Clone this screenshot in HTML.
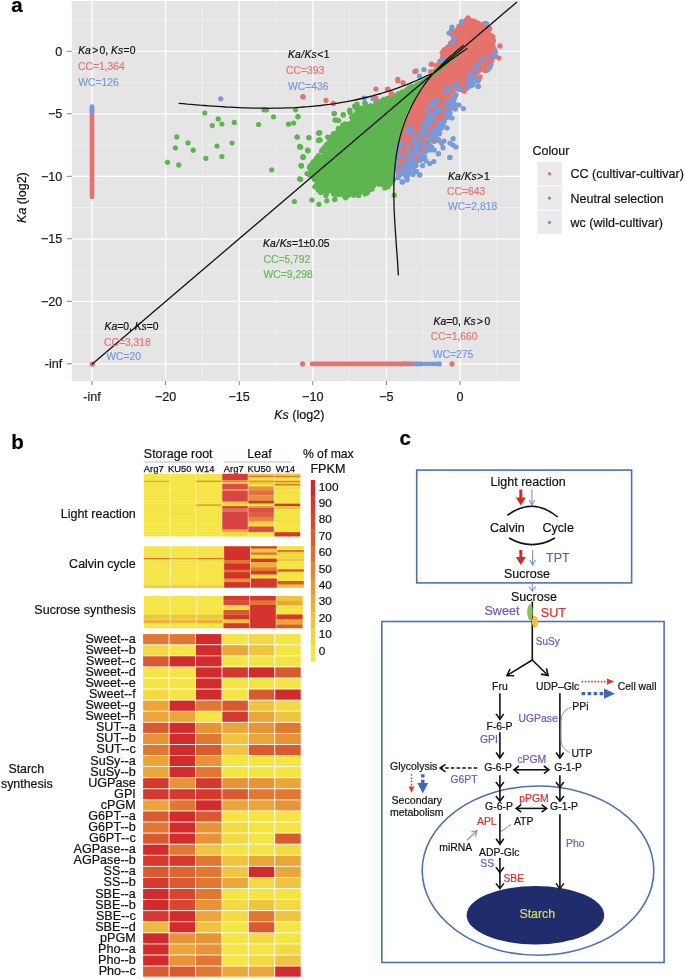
<!DOCTYPE html>
<html><head><meta charset="utf-8"><style>
html,body{margin:0;padding:0;background:#fff;}
body{width:685px;height:980px;overflow:hidden;font-family:"Liberation Sans",sans-serif;}
svg{display:block;will-change:transform;filter:blur(0.3px);}
</style></head><body>
<svg width="685" height="980" viewBox="0 0 685 980">
<rect width="685" height="980" fill="#fff"/>
<rect x="71.8" y="1" width="448.2" height="380" fill="#E5E5E5"/>
<line x1="71.8" y1="332.6" x2="520" y2="332.6" stroke="#F2F2F2" stroke-width="0.7"/>
<line x1="202.4" y1="1" x2="202.4" y2="381" stroke="#F2F2F2" stroke-width="0.7"/>
<line x1="71.8" y1="270.1" x2="520" y2="270.1" stroke="#F2F2F2" stroke-width="0.7"/>
<line x1="276.0" y1="1" x2="276.0" y2="381" stroke="#F2F2F2" stroke-width="0.7"/>
<line x1="71.8" y1="207.6" x2="520" y2="207.6" stroke="#F2F2F2" stroke-width="0.7"/>
<line x1="349.6" y1="1" x2="349.6" y2="381" stroke="#F2F2F2" stroke-width="0.7"/>
<line x1="71.8" y1="145.1" x2="520" y2="145.1" stroke="#F2F2F2" stroke-width="0.7"/>
<line x1="423.2" y1="1" x2="423.2" y2="381" stroke="#F2F2F2" stroke-width="0.7"/>
<line x1="71.8" y1="82.6" x2="520" y2="82.6" stroke="#F2F2F2" stroke-width="0.7"/>
<line x1="496.8" y1="1" x2="496.8" y2="381" stroke="#F2F2F2" stroke-width="0.7"/>
<line x1="71.8" y1="20.1" x2="520" y2="20.1" stroke="#F2F2F2" stroke-width="0.7"/>
<line x1="92.0" y1="1" x2="92.0" y2="381" stroke="#FFFFFF" stroke-width="1.3"/>
<line x1="71.8" y1="363.8" x2="520" y2="363.8" stroke="#FFFFFF" stroke-width="1.3"/>
<line x1="165.6" y1="1" x2="165.6" y2="381" stroke="#FFFFFF" stroke-width="1.3"/>
<line x1="71.8" y1="301.3" x2="520" y2="301.3" stroke="#FFFFFF" stroke-width="1.3"/>
<line x1="239.2" y1="1" x2="239.2" y2="381" stroke="#FFFFFF" stroke-width="1.3"/>
<line x1="71.8" y1="238.8" x2="520" y2="238.8" stroke="#FFFFFF" stroke-width="1.3"/>
<line x1="312.8" y1="1" x2="312.8" y2="381" stroke="#FFFFFF" stroke-width="1.3"/>
<line x1="71.8" y1="176.3" x2="520" y2="176.3" stroke="#FFFFFF" stroke-width="1.3"/>
<line x1="386.4" y1="1" x2="386.4" y2="381" stroke="#FFFFFF" stroke-width="1.3"/>
<line x1="71.8" y1="113.8" x2="520" y2="113.8" stroke="#FFFFFF" stroke-width="1.3"/>
<line x1="460.0" y1="1" x2="460.0" y2="381" stroke="#FFFFFF" stroke-width="1.3"/>
<line x1="71.8" y1="51.3" x2="520" y2="51.3" stroke="#FFFFFF" stroke-width="1.3"/>
<line x1="92.0" y1="381" x2="92.0" y2="385" stroke="#7F7F7F" stroke-width="1"/>
<line x1="66.8" y1="363.8" x2="71.8" y2="363.8" stroke="#7F7F7F" stroke-width="1"/>
<line x1="165.6" y1="381" x2="165.6" y2="385" stroke="#7F7F7F" stroke-width="1"/>
<line x1="66.8" y1="301.3" x2="71.8" y2="301.3" stroke="#7F7F7F" stroke-width="1"/>
<line x1="239.2" y1="381" x2="239.2" y2="385" stroke="#7F7F7F" stroke-width="1"/>
<line x1="66.8" y1="238.8" x2="71.8" y2="238.8" stroke="#7F7F7F" stroke-width="1"/>
<line x1="312.8" y1="381" x2="312.8" y2="385" stroke="#7F7F7F" stroke-width="1"/>
<line x1="66.8" y1="176.3" x2="71.8" y2="176.3" stroke="#7F7F7F" stroke-width="1"/>
<line x1="386.4" y1="381" x2="386.4" y2="385" stroke="#7F7F7F" stroke-width="1"/>
<line x1="66.8" y1="113.8" x2="71.8" y2="113.8" stroke="#7F7F7F" stroke-width="1"/>
<line x1="460.0" y1="381" x2="460.0" y2="385" stroke="#7F7F7F" stroke-width="1"/>
<line x1="66.8" y1="51.3" x2="71.8" y2="51.3" stroke="#7F7F7F" stroke-width="1"/>
<defs><clipPath id="gclip"><polygon points="150.0,60.0 178.7,104.8 183.0,105.2 187.3,105.6 191.6,105.9 195.9,106.3 200.2,106.7 204.5,107.0 208.8,107.3 213.1,107.6 217.4,107.9 221.7,108.2 226.0,108.5 230.3,108.7 234.6,108.9 238.9,109.1 243.3,109.3 247.6,109.4 251.9,109.6 256.2,109.7 260.5,109.7 264.8,109.7 269.1,109.8 273.4,109.7 277.7,109.7 282.0,109.6 286.3,109.4 290.6,109.3 294.9,109.1 299.2,108.8 303.5,108.5 307.8,108.2 312.1,107.8 316.4,107.4 320.7,107.0 325.0,106.4 329.3,105.9 333.6,105.3 337.9,104.6 342.2,103.9 346.5,103.2 350.8,102.3 355.1,101.5 359.4,100.5 363.7,99.5 368.0,98.5 372.4,97.4 376.7,96.2 381.0,95.0 385.3,93.6 389.6,92.3 393.9,90.8 398.2,89.3 402.5,87.7 406.8,86.1 411.1,84.3 415.4,82.5 419.7,80.6 424.0,78.7 428.3,76.6 432.6,75.4 447.0,56.0 520.0,0.0 520.0,400.0 150.0,400.0"/></clipPath></defs>
<line x1="92" y1="108" x2="92" y2="197" stroke="#E5736B" stroke-width="4.6" stroke-linecap="round"/>
<line x1="92" y1="106.5" x2="92" y2="112.5" stroke="#7A99D9" stroke-width="4.6" stroke-linecap="round"/>
<line x1="312" y1="363.9" x2="405" y2="363.9" stroke="#E5736B" stroke-width="4.6" stroke-linecap="round"/>
<line x1="405" y1="363.9" x2="422" y2="363.9" stroke="#7A99D9" stroke-width="4.6" stroke-linecap="round"/>
<circle cx="425.5" cy="363.9" r="2.4" fill="#7A99D9"/>
<circle cx="429.0" cy="363.9" r="2.4" fill="#7A99D9"/>
<circle cx="432.5" cy="363.9" r="2.4" fill="#7A99D9"/>
<circle cx="435.5" cy="363.9" r="2.4" fill="#7A99D9"/>
<circle cx="406.5" cy="363.9" r="2.4" fill="#E5736B"/>
<circle cx="410.5" cy="363.9" r="2.4" fill="#E5736B"/>
<circle cx="302.6" cy="363.9" r="2.6" fill="#E5736B"/>
<circle cx="439.3" cy="363.9" r="2.6" fill="#7A99D9"/>
<circle cx="452.0" cy="363.9" r="2.6" fill="#E5736B"/>
<circle cx="92.4" cy="364.2" r="2.6" fill="#E5736B"/>
<circle cx="204.8" cy="113.0" r="2.6" fill="#5EB450"/>
<circle cx="218.2" cy="118.9" r="2.6" fill="#5EB450"/>
<circle cx="212.3" cy="125.6" r="2.6" fill="#5EB450"/>
<circle cx="221.9" cy="124.0" r="2.6" fill="#5EB450"/>
<circle cx="234.3" cy="122.4" r="2.6" fill="#5EB450"/>
<circle cx="264.0" cy="109.8" r="2.6" fill="#5EB450"/>
<circle cx="266.5" cy="109.8" r="2.6" fill="#5EB450"/>
<circle cx="273.5" cy="116.8" r="2.6" fill="#5EB450"/>
<circle cx="258.6" cy="124.5" r="2.6" fill="#5EB450"/>
<circle cx="295.5" cy="109.8" r="2.6" fill="#5EB450"/>
<circle cx="298.0" cy="116.8" r="2.6" fill="#5EB450"/>
<circle cx="288.5" cy="124.2" r="2.6" fill="#5EB450"/>
<circle cx="293.6" cy="123.0" r="2.6" fill="#5EB450"/>
<circle cx="176.8" cy="136.9" r="2.6" fill="#5EB450"/>
<circle cx="188.0" cy="142.9" r="2.6" fill="#5EB450"/>
<circle cx="175.4" cy="147.8" r="2.6" fill="#5EB450"/>
<circle cx="193.2" cy="150.2" r="2.6" fill="#5EB450"/>
<circle cx="217.0" cy="146.0" r="2.6" fill="#5EB450"/>
<circle cx="232.0" cy="143.0" r="2.6" fill="#5EB450"/>
<circle cx="167.5" cy="162.3" r="2.6" fill="#5EB450"/>
<circle cx="178.7" cy="164.9" r="2.6" fill="#5EB450"/>
<circle cx="205.8" cy="158.3" r="2.6" fill="#5EB450"/>
<circle cx="221.9" cy="156.5" r="2.6" fill="#5EB450"/>
<circle cx="271.7" cy="169.8" r="2.6" fill="#5EB450"/>
<circle cx="297.0" cy="137.0" r="2.6" fill="#5EB450"/>
<circle cx="308.8" cy="137.8" r="2.6" fill="#5EB450"/>
<circle cx="299.7" cy="146.9" r="2.6" fill="#5EB450"/>
<circle cx="307.6" cy="150.2" r="2.6" fill="#5EB450"/>
<circle cx="303.0" cy="156.7" r="2.6" fill="#5EB450"/>
<circle cx="301.0" cy="165.6" r="2.6" fill="#5EB450"/>
<circle cx="309.5" cy="167.5" r="2.6" fill="#5EB450"/>
<circle cx="318.4" cy="133.0" r="2.6" fill="#5EB450"/>
<circle cx="318.4" cy="140.6" r="2.6" fill="#5EB450"/>
<circle cx="300.1" cy="179.3" r="2.6" fill="#5EB450"/>
<circle cx="294.4" cy="201.5" r="2.6" fill="#5EB450"/>
<circle cx="299.6" cy="178.9" r="2.6" fill="#5EB450"/>
<circle cx="309.3" cy="174.5" r="2.6" fill="#5EB450"/>
<circle cx="311.9" cy="200.0" r="2.6" fill="#5EB450"/>
<circle cx="326.8" cy="200.8" r="2.6" fill="#5EB450"/>
<circle cx="334.7" cy="199.6" r="2.6" fill="#5EB450"/>
<circle cx="318.9" cy="204.3" r="2.6" fill="#5EB450"/>
<circle cx="367.0" cy="193.0" r="2.6" fill="#5EB450"/>
<circle cx="388.0" cy="186.8" r="2.6" fill="#5EB450"/>
<circle cx="394.2" cy="195.2" r="2.6" fill="#5EB450"/>
<circle cx="334.3" cy="113.6" r="2.6" fill="#5EB450"/>
<circle cx="343.0" cy="114.7" r="2.6" fill="#5EB450"/>
<circle cx="335.0" cy="120.1" r="2.6" fill="#5EB450"/>
<circle cx="338.7" cy="120.6" r="2.6" fill="#5EB450"/>
<circle cx="319.7" cy="132.6" r="2.6" fill="#5EB450"/>
<circle cx="319.0" cy="139.9" r="2.6" fill="#5EB450"/>
<circle cx="300.7" cy="147.2" r="2.6" fill="#5EB450"/>
<circle cx="308.0" cy="150.8" r="2.6" fill="#5EB450"/>
<circle cx="302.9" cy="157.4" r="2.6" fill="#5EB450"/>
<circle cx="301.5" cy="166.1" r="2.6" fill="#5EB450"/>
<circle cx="309.5" cy="174.9" r="2.6" fill="#5EB450"/>
<circle cx="300.7" cy="179.3" r="2.6" fill="#5EB450"/>
<circle cx="349.6" cy="110.7" r="2.6" fill="#5EB450"/>
<circle cx="355.5" cy="107.7" r="2.6" fill="#5EB450"/>
<circle cx="365.0" cy="103.4" r="2.6" fill="#5EB450"/>
<circle cx="357.0" cy="104.1" r="2.6" fill="#5EB450"/>
<circle cx="367.2" cy="192.4" r="2.6" fill="#5EB450"/>
<circle cx="381.8" cy="184.4" r="2.6" fill="#5EB450"/>
<circle cx="387.6" cy="186.6" r="2.6" fill="#5EB450"/>
<circle cx="334.1" cy="113.7" r="2.6" fill="#5EB450"/>
<circle cx="343.5" cy="114.9" r="2.6" fill="#5EB450"/>
<circle cx="349.9" cy="110.2" r="2.6" fill="#5EB450"/>
<circle cx="337.0" cy="120.1" r="2.6" fill="#5EB450"/>
<circle cx="319.5" cy="133.0" r="2.6" fill="#5EB450"/>
<circle cx="309.0" cy="137.6" r="2.6" fill="#5EB450"/>
<circle cx="320.1" cy="140.0" r="2.6" fill="#5EB450"/>
<circle cx="327.7" cy="137.0" r="2.6" fill="#5EB450"/>
<circle cx="297.3" cy="137.0" r="2.6" fill="#5EB450"/>
<circle cx="299.7" cy="146.4" r="2.6" fill="#5EB450"/>
<circle cx="307.8" cy="150.5" r="2.6" fill="#5EB450"/>
<circle cx="303.2" cy="156.9" r="2.6" fill="#5EB450"/>
<circle cx="301.4" cy="165.7" r="2.6" fill="#5EB450"/>
<circle cx="309.6" cy="167.4" r="2.6" fill="#5EB450"/>
<circle cx="297.9" cy="116.6" r="2.6" fill="#5EB450"/>
<circle cx="365.0" cy="103.2" r="2.6" fill="#5EB450"/>
<circle cx="354.6" cy="106.0" r="2.6" fill="#5EB450"/>
<circle cx="358.0" cy="108.4" r="2.6" fill="#5EB450"/>
<g clip-path="url(#gclip)">
<polygon points="447.0,56.0 440.0,64.0 432.0,74.0 425.0,83.0 419.0,92.0 412.0,104.0 407.0,113.0 403.0,124.0 400.0,136.0 398.0,147.0 396.0,158.0 394.5,170.0 394.0,179.0 390.0,182.0 380.0,184.0 366.0,190.0 352.0,192.0 344.0,194.0 330.0,190.5 320.0,192.0 317.0,187.0 315.0,177.0 312.0,170.0 312.5,166.0 318.3,163.5 322.4,158.6 326.9,152.6 331.6,146.9 336.2,139.8 340.3,133.8 346.6,128.0 352.5,121.0 359.2,115.2 367.3,111.7 377.9,108.1 388.0,98.0 400.0,93.0 410.0,88.0 420.0,82.5 430.0,76.0" fill="#5EB450"/>
<circle cx="360.6" cy="189.4" r="2.6" fill="#5EB450"/><circle cx="387.2" cy="183.0" r="2.6" fill="#5EB450"/><circle cx="389.0" cy="183.9" r="2.6" fill="#5EB450"/><circle cx="387.0" cy="181.0" r="2.6" fill="#5EB450"/><circle cx="314.4" cy="179.4" r="2.6" fill="#5EB450"/><circle cx="311.8" cy="166.5" r="2.6" fill="#5EB450"/><circle cx="315.0" cy="164.0" r="2.6" fill="#5EB450"/><circle cx="364.5" cy="189.8" r="2.6" fill="#5EB450"/><circle cx="316.8" cy="180.1" r="2.6" fill="#5EB450"/><circle cx="326.8" cy="190.7" r="2.6" fill="#5EB450"/><circle cx="388.3" cy="183.5" r="2.6" fill="#5EB450"/><circle cx="349.4" cy="192.1" r="2.6" fill="#5EB450"/><circle cx="346.6" cy="192.7" r="2.6" fill="#5EB450"/><circle cx="320.2" cy="191.1" r="2.6" fill="#5EB450"/><circle cx="338.6" cy="194.6" r="2.6" fill="#5EB450"/><circle cx="365.2" cy="193.9" r="2.6" fill="#5EB450"/><circle cx="318.2" cy="186.5" r="2.6" fill="#5EB450"/><circle cx="391.1" cy="182.4" r="2.6" fill="#5EB450"/><circle cx="333.5" cy="193.4" r="2.6" fill="#5EB450"/><circle cx="320.8" cy="192.6" r="2.6" fill="#5EB450"/><circle cx="346.9" cy="195.1" r="2.6" fill="#5EB450"/><circle cx="345.5" cy="197.8" r="2.6" fill="#5EB450"/><circle cx="326.3" cy="193.6" r="2.6" fill="#5EB450"/><circle cx="365.0" cy="189.9" r="2.6" fill="#5EB450"/><circle cx="392.2" cy="180.8" r="2.6" fill="#5EB450"/><circle cx="389.0" cy="184.4" r="2.6" fill="#5EB450"/><circle cx="353.9" cy="195.2" r="2.6" fill="#5EB450"/><circle cx="336.0" cy="194.0" r="2.6" fill="#5EB450"/><circle cx="314.9" cy="175.0" r="2.6" fill="#5EB450"/><circle cx="357.2" cy="193.2" r="2.6" fill="#5EB450"/><circle cx="378.5" cy="184.1" r="2.6" fill="#5EB450"/><circle cx="343.2" cy="194.5" r="2.6" fill="#5EB450"/><circle cx="393.6" cy="179.2" r="2.6" fill="#5EB450"/><circle cx="334.1" cy="193.9" r="2.6" fill="#5EB450"/><circle cx="339.9" cy="193.8" r="2.6" fill="#5EB450"/><circle cx="389.5" cy="184.2" r="2.6" fill="#5EB450"/><circle cx="312.3" cy="174.8" r="2.6" fill="#5EB450"/><circle cx="352.4" cy="190.4" r="2.6" fill="#5EB450"/><circle cx="387.9" cy="181.1" r="2.6" fill="#5EB450"/><circle cx="358.8" cy="189.7" r="2.6" fill="#5EB450"/><circle cx="384.9" cy="187.9" r="2.6" fill="#5EB450"/><circle cx="329.4" cy="189.3" r="2.6" fill="#5EB450"/><circle cx="358.8" cy="195.4" r="2.6" fill="#5EB450"/><circle cx="313.7" cy="161.7" r="2.6" fill="#5EB450"/><circle cx="385.3" cy="181.4" r="2.6" fill="#5EB450"/><circle cx="367.8" cy="191.2" r="2.6" fill="#5EB450"/><circle cx="310.2" cy="165.9" r="2.6" fill="#5EB450"/><circle cx="391.8" cy="181.1" r="2.6" fill="#5EB450"/><circle cx="313.3" cy="175.8" r="2.6" fill="#5EB450"/><circle cx="355.9" cy="190.2" r="2.6" fill="#5EB450"/><circle cx="337.9" cy="194.0" r="2.6" fill="#5EB450"/><circle cx="372.0" cy="189.2" r="2.6" fill="#5EB450"/><circle cx="313.3" cy="177.1" r="2.6" fill="#5EB450"/><circle cx="318.7" cy="187.9" r="2.6" fill="#5EB450"/><circle cx="357.2" cy="190.2" r="2.6" fill="#5EB450"/><circle cx="368.1" cy="190.3" r="2.6" fill="#5EB450"/><circle cx="347.9" cy="195.3" r="2.6" fill="#5EB450"/><circle cx="312.3" cy="165.7" r="2.6" fill="#5EB450"/><circle cx="373.6" cy="185.6" r="2.6" fill="#5EB450"/><circle cx="311.0" cy="172.3" r="2.6" fill="#5EB450"/><circle cx="325.9" cy="195.5" r="2.6" fill="#5EB450"/><circle cx="310.9" cy="171.2" r="2.6" fill="#5EB450"/><circle cx="343.8" cy="192.8" r="2.6" fill="#5EB450"/><circle cx="360.1" cy="192.5" r="2.6" fill="#5EB450"/><circle cx="352.9" cy="191.7" r="2.6" fill="#5EB450"/><circle cx="319.4" cy="189.4" r="2.6" fill="#5EB450"/><circle cx="307.0" cy="173.5" r="2.6" fill="#5EB450"/><circle cx="312.5" cy="162.8" r="2.6" fill="#5EB450"/><circle cx="334.8" cy="199.3" r="2.6" fill="#5EB450"/><circle cx="325.7" cy="191.5" r="2.6" fill="#5EB450"/><circle cx="349.3" cy="194.7" r="2.6" fill="#5EB450"/><circle cx="372.2" cy="186.4" r="2.6" fill="#5EB450"/><circle cx="369.8" cy="189.0" r="2.6" fill="#5EB450"/><circle cx="350.1" cy="191.0" r="2.6" fill="#5EB450"/><circle cx="357.5" cy="191.3" r="2.6" fill="#5EB450"/><circle cx="312.6" cy="171.2" r="2.6" fill="#5EB450"/><circle cx="341.5" cy="193.8" r="2.6" fill="#5EB450"/><circle cx="392.3" cy="180.2" r="2.6" fill="#5EB450"/><circle cx="317.2" cy="181.9" r="2.6" fill="#5EB450"/><circle cx="318.2" cy="190.0" r="2.6" fill="#5EB450"/><circle cx="339.7" cy="193.4" r="2.6" fill="#5EB450"/><circle cx="383.7" cy="184.6" r="2.6" fill="#5EB450"/><circle cx="316.3" cy="185.1" r="2.6" fill="#5EB450"/><circle cx="314.8" cy="186.8" r="2.6" fill="#5EB450"/><circle cx="329.8" cy="190.8" r="2.6" fill="#5EB450"/><circle cx="321.0" cy="191.9" r="2.6" fill="#5EB450"/><circle cx="344.7" cy="196.1" r="2.6" fill="#5EB450"/><circle cx="311.7" cy="174.9" r="2.6" fill="#5EB450"/><circle cx="334.8" cy="194.0" r="2.6" fill="#5EB450"/><circle cx="379.8" cy="182.6" r="2.6" fill="#5EB450"/>
<circle cx="316.1" cy="163.0" r="2.6" fill="#5EB450"/><circle cx="366.2" cy="107.0" r="2.6" fill="#5EB450"/><circle cx="360.1" cy="111.5" r="2.6" fill="#5EB450"/><circle cx="376.2" cy="103.1" r="2.6" fill="#5EB450"/><circle cx="384.8" cy="103.5" r="2.6" fill="#5EB450"/><circle cx="387.3" cy="99.1" r="2.6" fill="#5EB450"/><circle cx="338.9" cy="132.2" r="2.6" fill="#5EB450"/><circle cx="324.9" cy="154.0" r="2.6" fill="#5EB450"/><circle cx="314.9" cy="168.2" r="2.6" fill="#5EB450"/><circle cx="316.4" cy="168.6" r="2.6" fill="#5EB450"/><circle cx="347.1" cy="129.0" r="2.6" fill="#5EB450"/><circle cx="366.5" cy="106.4" r="2.6" fill="#5EB450"/><circle cx="331.1" cy="149.4" r="2.6" fill="#5EB450"/><circle cx="330.9" cy="148.6" r="2.6" fill="#5EB450"/><circle cx="379.5" cy="102.7" r="2.6" fill="#5EB450"/><circle cx="318.5" cy="155.6" r="2.6" fill="#5EB450"/><circle cx="359.2" cy="113.7" r="2.6" fill="#5EB450"/><circle cx="341.0" cy="134.5" r="2.6" fill="#5EB450"/><circle cx="350.1" cy="112.6" r="2.6" fill="#5EB450"/><circle cx="313.9" cy="163.0" r="2.6" fill="#5EB450"/><circle cx="333.0" cy="140.3" r="2.6" fill="#5EB450"/><circle cx="330.8" cy="148.8" r="2.6" fill="#5EB450"/><circle cx="328.8" cy="151.4" r="2.6" fill="#5EB450"/><circle cx="317.8" cy="166.0" r="2.6" fill="#5EB450"/><circle cx="329.8" cy="142.6" r="2.6" fill="#5EB450"/><circle cx="345.6" cy="129.3" r="2.6" fill="#5EB450"/><circle cx="314.3" cy="168.3" r="2.6" fill="#5EB450"/><circle cx="349.7" cy="124.7" r="2.6" fill="#5EB450"/><circle cx="383.9" cy="106.2" r="2.6" fill="#5EB450"/><circle cx="338.6" cy="132.7" r="2.6" fill="#5EB450"/><circle cx="336.5" cy="135.7" r="2.6" fill="#5EB450"/><circle cx="388.0" cy="102.5" r="2.6" fill="#5EB450"/><circle cx="359.2" cy="112.0" r="2.6" fill="#5EB450"/><circle cx="336.4" cy="141.4" r="2.6" fill="#5EB450"/><circle cx="314.8" cy="162.8" r="2.6" fill="#5EB450"/><circle cx="324.1" cy="157.9" r="2.6" fill="#5EB450"/><circle cx="375.7" cy="105.5" r="2.6" fill="#5EB450"/><circle cx="328.1" cy="150.3" r="2.6" fill="#5EB450"/><circle cx="321.7" cy="156.8" r="2.6" fill="#5EB450"/><circle cx="384.1" cy="99.5" r="2.6" fill="#5EB450"/><circle cx="324.6" cy="147.1" r="2.6" fill="#5EB450"/><circle cx="337.3" cy="140.8" r="2.6" fill="#5EB450"/><circle cx="342.0" cy="129.5" r="2.6" fill="#5EB450"/><circle cx="346.7" cy="129.8" r="2.6" fill="#5EB450"/><circle cx="317.2" cy="162.9" r="2.6" fill="#5EB450"/><circle cx="332.8" cy="144.7" r="2.6" fill="#5EB450"/><circle cx="345.1" cy="123.9" r="2.6" fill="#5EB450"/><circle cx="359.5" cy="110.1" r="2.6" fill="#5EB450"/><circle cx="329.7" cy="139.8" r="2.6" fill="#5EB450"/><circle cx="359.5" cy="107.9" r="2.6" fill="#5EB450"/><circle cx="378.1" cy="104.8" r="2.6" fill="#5EB450"/><circle cx="370.8" cy="111.1" r="2.6" fill="#5EB450"/><circle cx="342.8" cy="125.6" r="2.6" fill="#5EB450"/><circle cx="371.3" cy="107.6" r="2.6" fill="#5EB450"/><circle cx="357.2" cy="112.6" r="2.6" fill="#5EB450"/><circle cx="317.9" cy="167.3" r="2.6" fill="#5EB450"/><circle cx="315.9" cy="159.7" r="2.6" fill="#5EB450"/><circle cx="352.9" cy="116.9" r="2.6" fill="#5EB450"/><circle cx="345.5" cy="131.0" r="2.6" fill="#5EB450"/><circle cx="363.7" cy="111.0" r="2.6" fill="#5EB450"/><circle cx="358.1" cy="117.6" r="2.6" fill="#5EB450"/><circle cx="330.0" cy="150.4" r="2.6" fill="#5EB450"/><circle cx="362.7" cy="113.8" r="2.6" fill="#5EB450"/><circle cx="386.9" cy="101.9" r="2.6" fill="#5EB450"/><circle cx="341.5" cy="128.3" r="2.6" fill="#5EB450"/><circle cx="351.7" cy="117.3" r="2.6" fill="#5EB450"/><circle cx="326.5" cy="147.3" r="2.6" fill="#5EB450"/><circle cx="351.3" cy="123.7" r="2.6" fill="#5EB450"/><circle cx="356.3" cy="113.4" r="2.6" fill="#5EB450"/><circle cx="330.4" cy="144.9" r="2.6" fill="#5EB450"/><circle cx="343.1" cy="132.1" r="2.6" fill="#5EB450"/><circle cx="321.5" cy="151.0" r="2.6" fill="#5EB450"/><circle cx="315.5" cy="168.5" r="2.6" fill="#5EB450"/><circle cx="386.2" cy="102.5" r="2.6" fill="#5EB450"/><circle cx="322.4" cy="150.2" r="2.6" fill="#5EB450"/><circle cx="352.1" cy="122.4" r="2.6" fill="#5EB450"/><circle cx="385.6" cy="105.2" r="2.6" fill="#5EB450"/><circle cx="342.9" cy="125.0" r="2.6" fill="#5EB450"/><circle cx="324.1" cy="148.5" r="2.6" fill="#5EB450"/><circle cx="318.8" cy="168.1" r="2.6" fill="#5EB450"/><circle cx="341.0" cy="132.3" r="2.6" fill="#5EB450"/><circle cx="334.7" cy="140.7" r="2.6" fill="#5EB450"/><circle cx="313.3" cy="170.0" r="2.6" fill="#5EB450"/><circle cx="316.5" cy="158.0" r="2.6" fill="#5EB450"/><circle cx="380.1" cy="106.5" r="2.6" fill="#5EB450"/><circle cx="333.7" cy="133.7" r="2.6" fill="#5EB450"/><circle cx="335.0" cy="138.9" r="2.6" fill="#5EB450"/><circle cx="318.4" cy="166.5" r="2.6" fill="#5EB450"/><circle cx="327.6" cy="143.8" r="2.6" fill="#5EB450"/><circle cx="328.5" cy="147.3" r="2.6" fill="#5EB450"/><circle cx="332.7" cy="135.6" r="2.6" fill="#5EB450"/><circle cx="369.7" cy="107.8" r="2.6" fill="#5EB450"/><circle cx="383.2" cy="103.1" r="2.6" fill="#5EB450"/><circle cx="314.2" cy="165.1" r="2.6" fill="#5EB450"/><circle cx="363.8" cy="109.9" r="2.6" fill="#5EB450"/><circle cx="312.9" cy="164.7" r="2.6" fill="#5EB450"/><circle cx="342.5" cy="130.5" r="2.6" fill="#5EB450"/><circle cx="361.5" cy="108.4" r="2.6" fill="#5EB450"/><circle cx="356.7" cy="116.6" r="2.6" fill="#5EB450"/><circle cx="338.6" cy="136.9" r="2.6" fill="#5EB450"/><circle cx="322.4" cy="150.5" r="2.6" fill="#5EB450"/><circle cx="323.2" cy="149.5" r="2.6" fill="#5EB450"/><circle cx="341.7" cy="133.2" r="2.6" fill="#5EB450"/><circle cx="317.2" cy="162.7" r="2.6" fill="#5EB450"/><circle cx="327.7" cy="147.7" r="2.6" fill="#5EB450"/><circle cx="364.1" cy="111.6" r="2.6" fill="#5EB450"/><circle cx="346.7" cy="126.1" r="2.6" fill="#5EB450"/><circle cx="317.7" cy="164.7" r="2.6" fill="#5EB450"/><circle cx="319.2" cy="159.4" r="2.6" fill="#5EB450"/><circle cx="375.9" cy="108.8" r="2.6" fill="#5EB450"/><circle cx="328.0" cy="149.3" r="2.6" fill="#5EB450"/><circle cx="383.7" cy="100.6" r="2.6" fill="#5EB450"/><circle cx="318.5" cy="168.4" r="2.6" fill="#5EB450"/><circle cx="379.0" cy="105.6" r="2.6" fill="#5EB450"/><circle cx="315.7" cy="170.4" r="2.6" fill="#5EB450"/><circle cx="370.6" cy="105.8" r="2.6" fill="#5EB450"/><circle cx="329.5" cy="150.6" r="2.6" fill="#5EB450"/><circle cx="345.0" cy="124.8" r="2.6" fill="#5EB450"/><circle cx="360.7" cy="111.3" r="2.6" fill="#5EB450"/><circle cx="338.3" cy="128.3" r="2.6" fill="#5EB450"/><circle cx="324.0" cy="148.3" r="2.6" fill="#5EB450"/><circle cx="333.4" cy="145.1" r="2.6" fill="#5EB450"/><circle cx="353.3" cy="115.9" r="2.6" fill="#5EB450"/><circle cx="316.3" cy="163.3" r="2.6" fill="#5EB450"/><circle cx="337.8" cy="137.2" r="2.6" fill="#5EB450"/><circle cx="316.5" cy="169.4" r="2.6" fill="#5EB450"/><circle cx="384.7" cy="101.7" r="2.6" fill="#5EB450"/><circle cx="343.3" cy="130.8" r="2.6" fill="#5EB450"/><circle cx="384.7" cy="101.2" r="2.6" fill="#5EB450"/><circle cx="315.3" cy="168.0" r="2.6" fill="#5EB450"/><circle cx="339.6" cy="134.2" r="2.6" fill="#5EB450"/><circle cx="382.3" cy="105.1" r="2.6" fill="#5EB450"/><circle cx="337.2" cy="132.5" r="2.6" fill="#5EB450"/><circle cx="367.9" cy="107.6" r="2.6" fill="#5EB450"/><circle cx="321.9" cy="150.5" r="2.6" fill="#5EB450"/><circle cx="371.4" cy="110.2" r="2.6" fill="#5EB450"/><circle cx="365.6" cy="111.8" r="2.6" fill="#5EB450"/><circle cx="345.2" cy="129.6" r="2.6" fill="#5EB450"/><circle cx="337.1" cy="132.9" r="2.6" fill="#5EB450"/><circle cx="321.2" cy="158.1" r="2.6" fill="#5EB450"/><circle cx="387.7" cy="104.1" r="2.6" fill="#5EB450"/><circle cx="334.3" cy="134.1" r="2.6" fill="#5EB450"/><circle cx="360.8" cy="108.6" r="2.6" fill="#5EB450"/><circle cx="334.6" cy="142.6" r="2.6" fill="#5EB450"/><circle cx="364.9" cy="114.1" r="2.6" fill="#5EB450"/><circle cx="336.4" cy="137.5" r="2.6" fill="#5EB450"/><circle cx="325.0" cy="157.7" r="2.6" fill="#5EB450"/><circle cx="331.4" cy="137.6" r="2.6" fill="#5EB450"/><circle cx="386.6" cy="104.2" r="2.6" fill="#5EB450"/><circle cx="370.3" cy="106.2" r="2.6" fill="#5EB450"/><circle cx="315.9" cy="165.6" r="2.6" fill="#5EB450"/><circle cx="382.1" cy="106.3" r="2.6" fill="#5EB450"/><circle cx="380.4" cy="108.4" r="2.6" fill="#5EB450"/><circle cx="369.3" cy="106.8" r="2.6" fill="#5EB450"/><circle cx="313.4" cy="163.3" r="2.6" fill="#5EB450"/><circle cx="362.5" cy="108.6" r="2.6" fill="#5EB450"/><circle cx="326.6" cy="144.8" r="2.6" fill="#5EB450"/><circle cx="327.2" cy="146.7" r="2.6" fill="#5EB450"/><circle cx="332.0" cy="148.7" r="2.6" fill="#5EB450"/><circle cx="380.6" cy="103.7" r="2.6" fill="#5EB450"/><circle cx="317.2" cy="168.0" r="2.6" fill="#5EB450"/><circle cx="383.6" cy="99.8" r="2.6" fill="#5EB450"/><circle cx="328.0" cy="148.9" r="2.6" fill="#5EB450"/><circle cx="383.0" cy="106.0" r="2.6" fill="#5EB450"/><circle cx="361.9" cy="109.4" r="2.6" fill="#5EB450"/><circle cx="352.6" cy="119.9" r="2.6" fill="#5EB450"/><circle cx="332.6" cy="137.1" r="2.6" fill="#5EB450"/><circle cx="364.9" cy="112.4" r="2.6" fill="#5EB450"/><circle cx="349.0" cy="123.9" r="2.6" fill="#5EB450"/><circle cx="376.2" cy="102.9" r="2.6" fill="#5EB450"/>
<circle cx="381.6" cy="103.4" r="2.6" fill="#5EB450"/><circle cx="415.6" cy="86.3" r="2.6" fill="#5EB450"/><circle cx="399.4" cy="93.9" r="2.6" fill="#5EB450"/><circle cx="417.0" cy="84.1" r="2.6" fill="#5EB450"/><circle cx="382.7" cy="100.4" r="2.6" fill="#5EB450"/><circle cx="408.0" cy="90.6" r="2.6" fill="#5EB450"/><circle cx="387.7" cy="100.1" r="2.6" fill="#5EB450"/><circle cx="384.4" cy="99.5" r="2.6" fill="#5EB450"/><circle cx="394.6" cy="96.7" r="2.6" fill="#5EB450"/><circle cx="404.9" cy="92.6" r="2.6" fill="#5EB450"/><circle cx="411.8" cy="86.5" r="2.6" fill="#5EB450"/><circle cx="402.4" cy="91.9" r="2.6" fill="#5EB450"/><circle cx="426.9" cy="80.8" r="2.6" fill="#5EB450"/><circle cx="383.4" cy="102.2" r="2.6" fill="#5EB450"/><circle cx="408.1" cy="88.6" r="2.6" fill="#5EB450"/><circle cx="423.8" cy="81.4" r="2.6" fill="#5EB450"/><circle cx="418.5" cy="83.0" r="2.6" fill="#5EB450"/><circle cx="409.2" cy="89.1" r="2.6" fill="#5EB450"/><circle cx="397.3" cy="96.4" r="2.6" fill="#5EB450"/><circle cx="390.4" cy="97.8" r="2.6" fill="#5EB450"/><circle cx="388.3" cy="100.6" r="2.6" fill="#5EB450"/><circle cx="414.3" cy="87.9" r="2.6" fill="#5EB450"/><circle cx="387.3" cy="98.5" r="2.6" fill="#5EB450"/><circle cx="380.4" cy="103.9" r="2.6" fill="#5EB450"/><circle cx="406.5" cy="90.0" r="2.6" fill="#5EB450"/><circle cx="414.9" cy="86.8" r="2.6" fill="#5EB450"/><circle cx="392.9" cy="95.6" r="2.6" fill="#5EB450"/><circle cx="408.0" cy="90.6" r="2.6" fill="#5EB450"/><circle cx="422.8" cy="80.1" r="2.6" fill="#5EB450"/><circle cx="387.0" cy="98.8" r="2.6" fill="#5EB450"/><circle cx="376.2" cy="103.2" r="2.6" fill="#5EB450"/><circle cx="421.6" cy="83.0" r="2.6" fill="#5EB450"/><circle cx="401.8" cy="92.6" r="2.6" fill="#5EB450"/><circle cx="410.3" cy="85.4" r="2.6" fill="#5EB450"/><circle cx="397.0" cy="95.3" r="2.6" fill="#5EB450"/><circle cx="392.1" cy="97.3" r="2.6" fill="#5EB450"/><circle cx="382.4" cy="101.7" r="2.6" fill="#5EB450"/><circle cx="429.4" cy="78.7" r="2.6" fill="#5EB450"/><circle cx="426.9" cy="77.5" r="2.6" fill="#5EB450"/><circle cx="378.8" cy="101.9" r="2.6" fill="#5EB450"/><circle cx="425.5" cy="79.7" r="2.6" fill="#5EB450"/><circle cx="384.9" cy="99.6" r="2.6" fill="#5EB450"/><circle cx="398.5" cy="93.6" r="2.6" fill="#5EB450"/><circle cx="386.9" cy="100.5" r="2.6" fill="#5EB450"/><circle cx="405.3" cy="91.9" r="2.6" fill="#5EB450"/><circle cx="389.8" cy="97.6" r="2.6" fill="#5EB450"/><circle cx="378.6" cy="103.2" r="2.6" fill="#5EB450"/><circle cx="378.1" cy="102.5" r="2.6" fill="#5EB450"/><circle cx="409.5" cy="89.2" r="2.6" fill="#5EB450"/><circle cx="393.5" cy="97.1" r="2.6" fill="#5EB450"/>
</g>
<polygon points="488.0,60.0 486.6,67.0 477.9,63.4 475.2,68.6 474.7,72.6 471.1,82.9 463.9,88.8 452.4,91.3 449.2,101.9 447.2,108.7 443.4,118.2 437.5,128.0 431.5,139.1 426.6,148.8 419.2,158.2 407.4,167.9 400.8,173.7 398.0,179.0 396.0,176.0 395.0,168.0 397.0,152.0 400.0,140.0 404.0,126.0 410.0,112.0 420.0,100.0 440.0,90.0 460.0,75.0 475.0,62.0" fill="#7A99D9"/>
<circle cx="449.3" cy="109.7" r="2.6" fill="#7A99D9"/><circle cx="444.3" cy="109.8" r="2.6" fill="#7A99D9"/><circle cx="442.8" cy="117.7" r="2.6" fill="#7A99D9"/><circle cx="423.4" cy="157.3" r="2.6" fill="#7A99D9"/><circle cx="472.9" cy="71.3" r="2.6" fill="#7A99D9"/><circle cx="475.7" cy="69.6" r="2.6" fill="#7A99D9"/><circle cx="482.3" cy="62.6" r="2.6" fill="#7A99D9"/><circle cx="424.1" cy="157.3" r="2.6" fill="#7A99D9"/><circle cx="459.0" cy="105.0" r="2.6" fill="#7A99D9"/><circle cx="398.1" cy="177.7" r="2.6" fill="#7A99D9"/><circle cx="467.7" cy="79.7" r="2.6" fill="#7A99D9"/><circle cx="407.2" cy="179.8" r="2.6" fill="#7A99D9"/><circle cx="403.1" cy="168.9" r="2.6" fill="#7A99D9"/><circle cx="422.5" cy="151.8" r="2.6" fill="#7A99D9"/><circle cx="460.3" cy="89.7" r="2.6" fill="#7A99D9"/><circle cx="405.1" cy="168.7" r="2.6" fill="#7A99D9"/><circle cx="442.9" cy="119.9" r="2.6" fill="#7A99D9"/><circle cx="472.4" cy="77.5" r="2.6" fill="#7A99D9"/><circle cx="407.8" cy="165.9" r="2.6" fill="#7A99D9"/><circle cx="475.4" cy="73.2" r="2.6" fill="#7A99D9"/><circle cx="453.6" cy="100.5" r="2.6" fill="#7A99D9"/><circle cx="453.1" cy="138.7" r="2.6" fill="#7A99D9"/><circle cx="433.3" cy="136.6" r="2.6" fill="#7A99D9"/><circle cx="460.5" cy="87.9" r="2.6" fill="#7A99D9"/><circle cx="452.8" cy="100.4" r="2.6" fill="#7A99D9"/><circle cx="468.6" cy="75.2" r="2.6" fill="#7A99D9"/><circle cx="459.5" cy="85.0" r="2.6" fill="#7A99D9"/><circle cx="438.3" cy="131.6" r="2.6" fill="#7A99D9"/><circle cx="490.2" cy="62.6" r="2.6" fill="#7A99D9"/><circle cx="447.9" cy="110.3" r="2.6" fill="#7A99D9"/><circle cx="478.7" cy="80.3" r="2.6" fill="#7A99D9"/><circle cx="490.1" cy="67.0" r="2.6" fill="#7A99D9"/><circle cx="477.1" cy="72.3" r="2.6" fill="#7A99D9"/><circle cx="435.1" cy="130.4" r="2.6" fill="#7A99D9"/><circle cx="442.9" cy="115.4" r="2.6" fill="#7A99D9"/><circle cx="463.6" cy="86.9" r="2.6" fill="#7A99D9"/><circle cx="413.6" cy="167.0" r="2.6" fill="#7A99D9"/><circle cx="454.8" cy="83.7" r="2.6" fill="#7A99D9"/><circle cx="438.1" cy="127.2" r="2.6" fill="#7A99D9"/><circle cx="450.1" cy="113.1" r="2.6" fill="#7A99D9"/><circle cx="460.1" cy="83.7" r="2.6" fill="#7A99D9"/><circle cx="451.5" cy="107.4" r="2.6" fill="#7A99D9"/><circle cx="488.4" cy="63.1" r="2.6" fill="#7A99D9"/><circle cx="477.3" cy="81.2" r="2.6" fill="#7A99D9"/><circle cx="444.3" cy="120.9" r="2.6" fill="#7A99D9"/><circle cx="472.5" cy="82.6" r="2.6" fill="#7A99D9"/><circle cx="482.5" cy="65.0" r="2.6" fill="#7A99D9"/><circle cx="424.7" cy="147.2" r="2.6" fill="#7A99D9"/><circle cx="425.3" cy="151.9" r="2.6" fill="#7A99D9"/><circle cx="445.6" cy="112.7" r="2.6" fill="#7A99D9"/><circle cx="486.0" cy="67.6" r="2.6" fill="#7A99D9"/><circle cx="431.5" cy="147.2" r="2.6" fill="#7A99D9"/><circle cx="457.8" cy="86.2" r="2.6" fill="#7A99D9"/><circle cx="421.5" cy="157.4" r="2.6" fill="#7A99D9"/><circle cx="441.6" cy="143.3" r="2.6" fill="#7A99D9"/><circle cx="486.7" cy="62.0" r="2.6" fill="#7A99D9"/><circle cx="404.7" cy="174.1" r="2.6" fill="#7A99D9"/><circle cx="415.0" cy="170.8" r="2.6" fill="#7A99D9"/><circle cx="435.1" cy="137.8" r="2.6" fill="#7A99D9"/><circle cx="399.9" cy="174.9" r="2.6" fill="#7A99D9"/><circle cx="431.5" cy="147.6" r="2.6" fill="#7A99D9"/><circle cx="427.9" cy="149.9" r="2.6" fill="#7A99D9"/><circle cx="462.6" cy="77.9" r="2.6" fill="#7A99D9"/><circle cx="474.2" cy="75.3" r="2.6" fill="#7A99D9"/><circle cx="449.3" cy="96.8" r="2.6" fill="#7A99D9"/><circle cx="430.3" cy="146.1" r="2.6" fill="#7A99D9"/><circle cx="423.8" cy="149.1" r="2.6" fill="#7A99D9"/><circle cx="453.1" cy="100.9" r="2.6" fill="#7A99D9"/><circle cx="407.8" cy="165.0" r="2.6" fill="#7A99D9"/><circle cx="409.7" cy="172.7" r="2.6" fill="#7A99D9"/><circle cx="472.0" cy="71.8" r="2.6" fill="#7A99D9"/><circle cx="419.9" cy="160.3" r="2.6" fill="#7A99D9"/><circle cx="432.7" cy="136.6" r="2.6" fill="#7A99D9"/><circle cx="422.6" cy="152.2" r="2.6" fill="#7A99D9"/><circle cx="445.1" cy="107.7" r="2.6" fill="#7A99D9"/><circle cx="457.3" cy="89.0" r="2.6" fill="#7A99D9"/><circle cx="456.0" cy="94.9" r="2.6" fill="#7A99D9"/><circle cx="416.2" cy="165.3" r="2.6" fill="#7A99D9"/><circle cx="449.5" cy="111.6" r="2.6" fill="#7A99D9"/><circle cx="434.2" cy="150.1" r="2.6" fill="#7A99D9"/><circle cx="478.4" cy="70.2" r="2.6" fill="#7A99D9"/><circle cx="467.7" cy="81.7" r="2.6" fill="#7A99D9"/><circle cx="489.6" cy="62.5" r="2.6" fill="#7A99D9"/><circle cx="418.7" cy="156.8" r="2.6" fill="#7A99D9"/><circle cx="453.9" cy="98.6" r="2.6" fill="#7A99D9"/><circle cx="405.0" cy="174.2" r="2.6" fill="#7A99D9"/><circle cx="441.7" cy="117.8" r="2.6" fill="#7A99D9"/><circle cx="478.9" cy="68.6" r="2.6" fill="#7A99D9"/><circle cx="422.2" cy="157.7" r="2.6" fill="#7A99D9"/><circle cx="448.5" cy="105.7" r="2.6" fill="#7A99D9"/><circle cx="479.8" cy="69.9" r="2.6" fill="#7A99D9"/><circle cx="460.2" cy="87.3" r="2.6" fill="#7A99D9"/><circle cx="454.6" cy="104.0" r="2.6" fill="#7A99D9"/><circle cx="443.1" cy="124.6" r="2.6" fill="#7A99D9"/><circle cx="431.8" cy="138.7" r="2.6" fill="#7A99D9"/><circle cx="473.5" cy="77.8" r="2.6" fill="#7A99D9"/><circle cx="423.9" cy="150.2" r="2.6" fill="#7A99D9"/><circle cx="424.7" cy="157.0" r="2.6" fill="#7A99D9"/><circle cx="410.1" cy="166.1" r="2.6" fill="#7A99D9"/><circle cx="431.4" cy="148.5" r="2.6" fill="#7A99D9"/><circle cx="464.3" cy="88.7" r="2.6" fill="#7A99D9"/><circle cx="469.6" cy="71.5" r="2.6" fill="#7A99D9"/><circle cx="424.8" cy="148.3" r="2.6" fill="#7A99D9"/><circle cx="474.9" cy="70.9" r="2.6" fill="#7A99D9"/><circle cx="422.0" cy="159.1" r="2.6" fill="#7A99D9"/><circle cx="468.6" cy="81.3" r="2.6" fill="#7A99D9"/><circle cx="446.5" cy="103.1" r="2.6" fill="#7A99D9"/><circle cx="422.2" cy="158.5" r="2.6" fill="#7A99D9"/><circle cx="436.0" cy="138.5" r="2.6" fill="#7A99D9"/><circle cx="450.7" cy="106.9" r="2.6" fill="#7A99D9"/><circle cx="448.5" cy="110.1" r="2.6" fill="#7A99D9"/><circle cx="446.4" cy="108.4" r="2.6" fill="#7A99D9"/><circle cx="412.5" cy="167.8" r="2.6" fill="#7A99D9"/><circle cx="415.3" cy="164.6" r="2.6" fill="#7A99D9"/><circle cx="445.3" cy="112.8" r="2.6" fill="#7A99D9"/><circle cx="475.3" cy="70.4" r="2.6" fill="#7A99D9"/><circle cx="428.9" cy="149.0" r="2.6" fill="#7A99D9"/><circle cx="448.0" cy="108.9" r="2.6" fill="#7A99D9"/><circle cx="450.1" cy="107.5" r="2.6" fill="#7A99D9"/><circle cx="470.2" cy="80.8" r="2.6" fill="#7A99D9"/><circle cx="449.7" cy="104.1" r="2.6" fill="#7A99D9"/><circle cx="482.7" cy="62.4" r="2.6" fill="#7A99D9"/><circle cx="405.8" cy="174.4" r="2.6" fill="#7A99D9"/><circle cx="442.1" cy="125.7" r="2.6" fill="#7A99D9"/><circle cx="435.4" cy="139.4" r="2.6" fill="#7A99D9"/><circle cx="455.3" cy="109.1" r="2.6" fill="#7A99D9"/><circle cx="463.4" cy="108.6" r="2.6" fill="#7A99D9"/><circle cx="448.1" cy="98.2" r="2.6" fill="#7A99D9"/><circle cx="445.8" cy="104.7" r="2.6" fill="#7A99D9"/><circle cx="449.8" cy="109.2" r="2.6" fill="#7A99D9"/><circle cx="456.0" cy="84.7" r="2.6" fill="#7A99D9"/><circle cx="407.4" cy="176.1" r="2.6" fill="#7A99D9"/><circle cx="451.9" cy="105.2" r="2.6" fill="#7A99D9"/><circle cx="420.2" cy="160.1" r="2.6" fill="#7A99D9"/><circle cx="437.3" cy="126.7" r="2.6" fill="#7A99D9"/><circle cx="452.3" cy="99.0" r="2.6" fill="#7A99D9"/><circle cx="418.6" cy="159.8" r="2.6" fill="#7A99D9"/><circle cx="437.8" cy="124.5" r="2.6" fill="#7A99D9"/><circle cx="453.7" cy="99.7" r="2.6" fill="#7A99D9"/><circle cx="448.6" cy="101.7" r="2.6" fill="#7A99D9"/><circle cx="471.8" cy="85.3" r="2.6" fill="#7A99D9"/><circle cx="454.6" cy="86.8" r="2.6" fill="#7A99D9"/><circle cx="444.6" cy="116.8" r="2.6" fill="#7A99D9"/><circle cx="430.9" cy="140.6" r="2.6" fill="#7A99D9"/><circle cx="412.2" cy="161.3" r="2.6" fill="#7A99D9"/><circle cx="412.9" cy="174.5" r="2.6" fill="#7A99D9"/><circle cx="438.6" cy="140.1" r="2.6" fill="#7A99D9"/><circle cx="430.8" cy="140.0" r="2.6" fill="#7A99D9"/><circle cx="463.9" cy="84.7" r="2.6" fill="#7A99D9"/><circle cx="473.7" cy="77.2" r="2.6" fill="#7A99D9"/><circle cx="471.6" cy="78.3" r="2.6" fill="#7A99D9"/><circle cx="423.0" cy="157.2" r="2.6" fill="#7A99D9"/><circle cx="426.1" cy="161.0" r="2.6" fill="#7A99D9"/><circle cx="443.1" cy="124.5" r="2.6" fill="#7A99D9"/><circle cx="411.1" cy="166.9" r="2.6" fill="#7A99D9"/><circle cx="466.7" cy="88.4" r="2.6" fill="#7A99D9"/><circle cx="481.8" cy="66.8" r="2.6" fill="#7A99D9"/><circle cx="444.4" cy="119.4" r="2.6" fill="#7A99D9"/><circle cx="487.5" cy="61.0" r="2.6" fill="#7A99D9"/><circle cx="440.1" cy="128.4" r="2.6" fill="#7A99D9"/><circle cx="449.8" cy="101.8" r="2.6" fill="#7A99D9"/><circle cx="478.3" cy="67.3" r="2.6" fill="#7A99D9"/><circle cx="486.3" cy="64.6" r="2.6" fill="#7A99D9"/><circle cx="404.3" cy="170.5" r="2.6" fill="#7A99D9"/><circle cx="443.1" cy="120.8" r="2.6" fill="#7A99D9"/><circle cx="485.2" cy="64.6" r="2.6" fill="#7A99D9"/><circle cx="454.5" cy="97.4" r="2.6" fill="#7A99D9"/><circle cx="445.6" cy="116.4" r="2.6" fill="#7A99D9"/><circle cx="468.2" cy="84.4" r="2.6" fill="#7A99D9"/><circle cx="441.7" cy="127.9" r="2.6" fill="#7A99D9"/><circle cx="417.0" cy="160.6" r="2.6" fill="#7A99D9"/><circle cx="457.0" cy="86.7" r="2.6" fill="#7A99D9"/><circle cx="434.0" cy="141.4" r="2.6" fill="#7A99D9"/><circle cx="451.5" cy="93.0" r="2.6" fill="#7A99D9"/><circle cx="438.8" cy="140.5" r="2.6" fill="#7A99D9"/><circle cx="411.4" cy="167.9" r="2.6" fill="#7A99D9"/><circle cx="490.9" cy="64.3" r="2.6" fill="#7A99D9"/><circle cx="436.5" cy="134.7" r="2.6" fill="#7A99D9"/><circle cx="408.2" cy="169.9" r="2.6" fill="#7A99D9"/><circle cx="435.4" cy="137.3" r="2.6" fill="#7A99D9"/><circle cx="428.4" cy="143.2" r="2.6" fill="#7A99D9"/><circle cx="448.7" cy="114.8" r="2.6" fill="#7A99D9"/><circle cx="484.4" cy="64.7" r="2.6" fill="#7A99D9"/><circle cx="431.2" cy="140.2" r="2.6" fill="#7A99D9"/><circle cx="421.9" cy="157.3" r="2.6" fill="#7A99D9"/><circle cx="453.8" cy="90.2" r="2.6" fill="#7A99D9"/><circle cx="448.9" cy="110.4" r="2.6" fill="#7A99D9"/><circle cx="482.8" cy="67.2" r="2.6" fill="#7A99D9"/><circle cx="419.8" cy="159.8" r="2.6" fill="#7A99D9"/><circle cx="443.7" cy="110.9" r="2.6" fill="#7A99D9"/><circle cx="439.6" cy="133.4" r="2.6" fill="#7A99D9"/><circle cx="447.6" cy="117.3" r="2.6" fill="#7A99D9"/><circle cx="469.3" cy="86.2" r="2.6" fill="#7A99D9"/><circle cx="427.6" cy="143.2" r="2.6" fill="#7A99D9"/><circle cx="479.0" cy="69.9" r="2.6" fill="#7A99D9"/><circle cx="425.9" cy="148.6" r="2.6" fill="#7A99D9"/><circle cx="472.8" cy="84.4" r="2.6" fill="#7A99D9"/><circle cx="430.3" cy="149.8" r="2.6" fill="#7A99D9"/><circle cx="477.6" cy="68.5" r="2.6" fill="#7A99D9"/><circle cx="449.1" cy="115.5" r="2.6" fill="#7A99D9"/>
<circle cx="461.7" cy="21.5" r="2.6" fill="#7A99D9"/>
<circle cx="486.3" cy="23.5" r="2.6" fill="#7A99D9"/>
<circle cx="493.4" cy="40.9" r="2.6" fill="#7A99D9"/>
<circle cx="494.4" cy="49.0" r="2.6" fill="#7A99D9"/>
<circle cx="495.5" cy="56.2" r="2.6" fill="#7A99D9"/>
<circle cx="486.3" cy="70.5" r="2.6" fill="#7A99D9"/>
<circle cx="452.0" cy="27.0" r="2.6" fill="#7A99D9"/>
<circle cx="449.0" cy="33.0" r="2.6" fill="#7A99D9"/>
<circle cx="455.0" cy="38.0" r="2.6" fill="#7A99D9"/>
<polygon points="465.0,21.0 472.0,23.0 479.0,23.5 485.0,25.0 489.5,31.5 491.0,37.5 491.0,43.5 492.5,49.5 490.0,60.0 486.0,63.0 481.0,66.0 476.7,71.0 471.0,74.0 466.0,78.5 461.0,82.0 457.0,86.0 452.4,90.5 443.0,98.5 434.0,106.4 427.0,114.5 420.0,122.6 412.7,130.8 406.0,139.0 402.0,146.0 399.5,150.0 398.8,150.0 400.8,135.0 403.8,125.0 407.3,114.0 412.3,104.0 419.3,93.0 425.3,84.0 432.3,74.0 437.0,65.0 441.0,62.0 444.0,57.0 446.0,50.0 452.0,44.0 456.5,37.0 457.0,30.0 462.0,24.0" fill="#E5736B"/>
<circle cx="491.4" cy="58.2" r="2.6" fill="#E5736B"/><circle cx="493.2" cy="40.4" r="2.6" fill="#E5736B"/><circle cx="490.0" cy="45.2" r="2.6" fill="#E5736B"/><circle cx="487.8" cy="32.2" r="2.6" fill="#E5736B"/><circle cx="490.4" cy="36.1" r="2.6" fill="#E5736B"/><circle cx="473.1" cy="21.9" r="2.6" fill="#E5736B"/><circle cx="491.5" cy="40.0" r="2.6" fill="#E5736B"/><circle cx="486.9" cy="25.8" r="2.6" fill="#E5736B"/><circle cx="492.4" cy="47.9" r="2.6" fill="#E5736B"/><circle cx="468.9" cy="20.1" r="2.6" fill="#E5736B"/><circle cx="491.6" cy="50.2" r="2.6" fill="#E5736B"/><circle cx="491.6" cy="59.0" r="2.6" fill="#E5736B"/><circle cx="482.3" cy="24.6" r="2.6" fill="#E5736B"/><circle cx="486.3" cy="25.6" r="2.6" fill="#E5736B"/><circle cx="492.6" cy="54.5" r="2.6" fill="#E5736B"/><circle cx="464.8" cy="21.9" r="2.6" fill="#E5736B"/><circle cx="492.0" cy="36.4" r="2.6" fill="#E5736B"/><circle cx="467.7" cy="20.4" r="2.6" fill="#E5736B"/><circle cx="492.0" cy="52.6" r="2.6" fill="#E5736B"/><circle cx="493.2" cy="52.0" r="2.6" fill="#E5736B"/><circle cx="492.5" cy="55.5" r="2.6" fill="#E5736B"/><circle cx="491.1" cy="48.9" r="2.6" fill="#E5736B"/><circle cx="489.9" cy="55.9" r="2.6" fill="#E5736B"/><circle cx="491.6" cy="41.9" r="2.6" fill="#E5736B"/><circle cx="492.8" cy="45.8" r="2.6" fill="#E5736B"/><circle cx="470.2" cy="21.2" r="2.6" fill="#E5736B"/><circle cx="478.1" cy="23.1" r="2.6" fill="#E5736B"/><circle cx="491.6" cy="53.6" r="2.6" fill="#E5736B"/><circle cx="490.1" cy="37.0" r="2.6" fill="#E5736B"/><circle cx="490.5" cy="43.3" r="2.6" fill="#E5736B"/><circle cx="486.7" cy="27.1" r="2.6" fill="#E5736B"/><circle cx="492.0" cy="60.3" r="2.6" fill="#E5736B"/><circle cx="490.8" cy="48.4" r="2.6" fill="#E5736B"/><circle cx="484.4" cy="24.7" r="2.6" fill="#E5736B"/><circle cx="491.6" cy="59.8" r="2.6" fill="#E5736B"/><circle cx="489.6" cy="35.9" r="2.6" fill="#E5736B"/><circle cx="488.8" cy="27.3" r="2.6" fill="#E5736B"/><circle cx="494.2" cy="50.3" r="2.6" fill="#E5736B"/><circle cx="466.8" cy="22.5" r="2.6" fill="#E5736B"/><circle cx="467.9" cy="21.6" r="2.6" fill="#E5736B"/><circle cx="489.8" cy="28.8" r="2.6" fill="#E5736B"/><circle cx="468.7" cy="21.6" r="2.6" fill="#E5736B"/><circle cx="472.1" cy="21.1" r="2.6" fill="#E5736B"/><circle cx="491.0" cy="35.3" r="2.6" fill="#E5736B"/><circle cx="490.6" cy="41.5" r="2.6" fill="#E5736B"/><circle cx="474.0" cy="21.3" r="2.6" fill="#E5736B"/><circle cx="477.3" cy="25.2" r="2.6" fill="#E5736B"/><circle cx="485.2" cy="23.4" r="2.6" fill="#E5736B"/><circle cx="490.4" cy="50.5" r="2.6" fill="#E5736B"/><circle cx="491.6" cy="43.6" r="2.6" fill="#E5736B"/><circle cx="467.7" cy="23.2" r="2.6" fill="#E5736B"/><circle cx="491.5" cy="56.8" r="2.6" fill="#E5736B"/><circle cx="492.8" cy="36.5" r="2.6" fill="#E5736B"/><circle cx="479.1" cy="25.1" r="2.6" fill="#E5736B"/><circle cx="474.5" cy="21.4" r="2.6" fill="#E5736B"/><circle cx="466.0" cy="20.3" r="2.6" fill="#E5736B"/><circle cx="489.9" cy="55.7" r="2.6" fill="#E5736B"/><circle cx="494.7" cy="53.2" r="2.6" fill="#E5736B"/><circle cx="470.8" cy="20.9" r="2.6" fill="#E5736B"/><circle cx="490.8" cy="39.1" r="2.6" fill="#E5736B"/>
<circle cx="411.7" cy="130.7" r="2.6" fill="#E5736B"/><circle cx="476.1" cy="71.9" r="2.6" fill="#E5736B"/><circle cx="433.8" cy="103.4" r="2.6" fill="#E5736B"/><circle cx="462.6" cy="80.2" r="2.6" fill="#E5736B"/><circle cx="410.9" cy="132.8" r="2.6" fill="#E5736B"/><circle cx="464.2" cy="91.2" r="2.6" fill="#E5736B"/><circle cx="484.5" cy="65.1" r="2.6" fill="#E5736B"/><circle cx="467.9" cy="75.6" r="2.6" fill="#E5736B"/><circle cx="462.6" cy="78.3" r="2.6" fill="#E5736B"/><circle cx="401.4" cy="149.8" r="2.6" fill="#E5736B"/><circle cx="478.6" cy="66.2" r="2.6" fill="#E5736B"/><circle cx="484.1" cy="64.5" r="2.6" fill="#E5736B"/><circle cx="398.5" cy="146.1" r="2.6" fill="#E5736B"/><circle cx="456.7" cy="88.0" r="2.6" fill="#E5736B"/><circle cx="436.5" cy="101.3" r="2.6" fill="#E5736B"/><circle cx="403.5" cy="139.2" r="2.6" fill="#E5736B"/><circle cx="475.4" cy="69.2" r="2.6" fill="#E5736B"/><circle cx="420.4" cy="119.2" r="2.6" fill="#E5736B"/><circle cx="429.9" cy="109.9" r="2.6" fill="#E5736B"/><circle cx="468.8" cy="75.6" r="2.6" fill="#E5736B"/><circle cx="413.1" cy="130.0" r="2.6" fill="#E5736B"/><circle cx="419.2" cy="121.8" r="2.6" fill="#E5736B"/><circle cx="484.5" cy="64.7" r="2.6" fill="#E5736B"/><circle cx="411.5" cy="133.7" r="2.6" fill="#E5736B"/><circle cx="489.1" cy="62.1" r="2.6" fill="#E5736B"/><circle cx="409.7" cy="137.2" r="2.6" fill="#E5736B"/><circle cx="451.9" cy="87.8" r="2.6" fill="#E5736B"/><circle cx="429.4" cy="107.1" r="2.6" fill="#E5736B"/><circle cx="447.0" cy="97.5" r="2.6" fill="#E5736B"/><circle cx="413.6" cy="131.2" r="2.6" fill="#E5736B"/><circle cx="420.9" cy="119.6" r="2.6" fill="#E5736B"/><circle cx="484.0" cy="65.3" r="2.6" fill="#E5736B"/><circle cx="440.6" cy="99.7" r="2.6" fill="#E5736B"/><circle cx="435.0" cy="101.7" r="2.6" fill="#E5736B"/><circle cx="466.2" cy="76.1" r="2.6" fill="#E5736B"/><circle cx="412.5" cy="130.3" r="2.6" fill="#E5736B"/><circle cx="468.1" cy="72.7" r="2.6" fill="#E5736B"/><circle cx="432.7" cy="106.9" r="2.6" fill="#E5736B"/><circle cx="480.1" cy="68.4" r="2.6" fill="#E5736B"/><circle cx="484.0" cy="61.3" r="2.6" fill="#E5736B"/><circle cx="440.0" cy="100.2" r="2.6" fill="#E5736B"/><circle cx="476.3" cy="70.8" r="2.6" fill="#E5736B"/><circle cx="475.1" cy="71.3" r="2.6" fill="#E5736B"/><circle cx="473.7" cy="73.4" r="2.6" fill="#E5736B"/><circle cx="450.7" cy="90.5" r="2.6" fill="#E5736B"/><circle cx="437.2" cy="101.9" r="2.6" fill="#E5736B"/><circle cx="415.8" cy="126.3" r="2.6" fill="#E5736B"/><circle cx="447.7" cy="96.3" r="2.6" fill="#E5736B"/><circle cx="405.8" cy="140.7" r="2.6" fill="#E5736B"/><circle cx="484.0" cy="63.4" r="2.6" fill="#E5736B"/><circle cx="402.2" cy="141.8" r="2.6" fill="#E5736B"/><circle cx="427.5" cy="111.9" r="2.6" fill="#E5736B"/><circle cx="482.1" cy="64.1" r="2.6" fill="#E5736B"/><circle cx="486.4" cy="59.7" r="2.6" fill="#E5736B"/><circle cx="417.2" cy="127.6" r="2.6" fill="#E5736B"/><circle cx="414.2" cy="130.5" r="2.6" fill="#E5736B"/><circle cx="486.4" cy="62.6" r="2.6" fill="#E5736B"/><circle cx="423.3" cy="116.1" r="2.6" fill="#E5736B"/><circle cx="404.3" cy="141.5" r="2.6" fill="#E5736B"/><circle cx="437.9" cy="101.6" r="2.6" fill="#E5736B"/><circle cx="459.6" cy="81.1" r="2.6" fill="#E5736B"/><circle cx="477.7" cy="69.3" r="2.6" fill="#E5736B"/><circle cx="438.0" cy="100.5" r="2.6" fill="#E5736B"/><circle cx="435.9" cy="102.0" r="2.6" fill="#E5736B"/><circle cx="459.4" cy="82.0" r="2.6" fill="#E5736B"/><circle cx="463.9" cy="76.8" r="2.6" fill="#E5736B"/><circle cx="410.8" cy="132.7" r="2.6" fill="#E5736B"/><circle cx="425.4" cy="113.1" r="2.6" fill="#E5736B"/><circle cx="444.0" cy="97.0" r="2.6" fill="#E5736B"/><circle cx="442.8" cy="97.2" r="2.6" fill="#E5736B"/><circle cx="438.5" cy="100.8" r="2.6" fill="#E5736B"/><circle cx="487.9" cy="59.8" r="2.6" fill="#E5736B"/><circle cx="465.6" cy="78.2" r="2.6" fill="#E5736B"/><circle cx="462.0" cy="83.0" r="2.6" fill="#E5736B"/><circle cx="418.0" cy="127.5" r="2.6" fill="#E5736B"/><circle cx="444.6" cy="93.6" r="2.6" fill="#E5736B"/><circle cx="446.9" cy="96.2" r="2.6" fill="#E5736B"/><circle cx="403.3" cy="146.1" r="2.6" fill="#E5736B"/><circle cx="454.8" cy="88.2" r="2.6" fill="#E5736B"/><circle cx="410.7" cy="134.4" r="2.6" fill="#E5736B"/><circle cx="419.8" cy="123.3" r="2.6" fill="#E5736B"/><circle cx="443.3" cy="99.0" r="2.6" fill="#E5736B"/><circle cx="403.0" cy="139.3" r="2.6" fill="#E5736B"/><circle cx="489.8" cy="60.7" r="2.6" fill="#E5736B"/><circle cx="441.6" cy="101.5" r="2.6" fill="#E5736B"/><circle cx="448.9" cy="94.2" r="2.6" fill="#E5736B"/><circle cx="429.7" cy="109.5" r="2.6" fill="#E5736B"/><circle cx="444.8" cy="97.3" r="2.6" fill="#E5736B"/><circle cx="450.9" cy="91.1" r="2.6" fill="#E5736B"/><circle cx="458.0" cy="85.8" r="2.6" fill="#E5736B"/><circle cx="440.4" cy="100.4" r="2.6" fill="#E5736B"/><circle cx="475.4" cy="71.2" r="2.6" fill="#E5736B"/><circle cx="481.5" cy="67.1" r="2.6" fill="#E5736B"/><circle cx="411.3" cy="133.8" r="2.6" fill="#E5736B"/><circle cx="468.4" cy="74.8" r="2.6" fill="#E5736B"/><circle cx="487.2" cy="58.6" r="2.6" fill="#E5736B"/><circle cx="441.5" cy="101.3" r="2.6" fill="#E5736B"/><circle cx="437.8" cy="105.1" r="2.6" fill="#E5736B"/><circle cx="438.9" cy="102.2" r="2.6" fill="#E5736B"/><circle cx="454.1" cy="88.4" r="2.6" fill="#E5736B"/>
<circle cx="401.0" cy="143.1" r="2.6" fill="#7A99D9"/><circle cx="477.1" cy="65.2" r="2.6" fill="#7A99D9"/><circle cx="432.8" cy="103.9" r="2.6" fill="#7A99D9"/><circle cx="399.3" cy="144.5" r="2.6" fill="#7A99D9"/><circle cx="428.4" cy="111.3" r="2.6" fill="#7A99D9"/><circle cx="436.7" cy="102.2" r="2.6" fill="#7A99D9"/><circle cx="399.5" cy="146.7" r="2.6" fill="#7A99D9"/><circle cx="477.7" cy="67.7" r="2.6" fill="#7A99D9"/><circle cx="411.7" cy="130.3" r="2.6" fill="#7A99D9"/><circle cx="445.4" cy="90.7" r="2.6" fill="#7A99D9"/><circle cx="437.6" cy="99.6" r="2.6" fill="#7A99D9"/><circle cx="426.8" cy="110.8" r="2.6" fill="#7A99D9"/><circle cx="398.3" cy="148.3" r="2.6" fill="#7A99D9"/><circle cx="412.5" cy="125.3" r="2.6" fill="#7A99D9"/><circle cx="487.3" cy="57.3" r="2.6" fill="#7A99D9"/><circle cx="431.2" cy="107.2" r="2.6" fill="#7A99D9"/><circle cx="432.8" cy="102.2" r="2.6" fill="#7A99D9"/><circle cx="436.8" cy="102.6" r="2.6" fill="#7A99D9"/><circle cx="447.2" cy="90.9" r="2.6" fill="#7A99D9"/><circle cx="476.2" cy="65.7" r="2.6" fill="#7A99D9"/><circle cx="410.4" cy="129.6" r="2.6" fill="#7A99D9"/><circle cx="480.9" cy="60.3" r="2.6" fill="#7A99D9"/><circle cx="456.0" cy="84.0" r="2.6" fill="#7A99D9"/><circle cx="472.1" cy="71.6" r="2.6" fill="#7A99D9"/><circle cx="430.0" cy="105.5" r="2.6" fill="#7A99D9"/><circle cx="448.6" cy="87.4" r="2.6" fill="#7A99D9"/><circle cx="431.8" cy="107.1" r="2.6" fill="#7A99D9"/><circle cx="428.5" cy="110.7" r="2.6" fill="#7A99D9"/><circle cx="406.9" cy="132.0" r="2.6" fill="#7A99D9"/><circle cx="410.1" cy="128.0" r="2.6" fill="#7A99D9"/>
<circle cx="460.9" cy="25.4" r="2.6" fill="#E5736B"/><circle cx="445.8" cy="52.3" r="2.6" fill="#E5736B"/><circle cx="445.9" cy="53.3" r="2.6" fill="#E5736B"/><circle cx="450.7" cy="43.1" r="2.6" fill="#E5736B"/><circle cx="449.0" cy="48.8" r="2.6" fill="#E5736B"/><circle cx="444.3" cy="49.6" r="2.6" fill="#E5736B"/><circle cx="449.0" cy="47.2" r="2.6" fill="#E5736B"/><circle cx="457.1" cy="30.1" r="2.6" fill="#E5736B"/><circle cx="444.8" cy="50.1" r="2.6" fill="#E5736B"/><circle cx="448.5" cy="49.4" r="2.6" fill="#E5736B"/><circle cx="443.9" cy="58.9" r="2.6" fill="#E5736B"/><circle cx="444.1" cy="57.2" r="2.6" fill="#E5736B"/><circle cx="458.3" cy="31.0" r="2.6" fill="#E5736B"/><circle cx="457.2" cy="34.6" r="2.6" fill="#E5736B"/><circle cx="443.2" cy="53.2" r="2.6" fill="#E5736B"/><circle cx="443.0" cy="52.2" r="2.6" fill="#E5736B"/><circle cx="444.1" cy="50.9" r="2.6" fill="#E5736B"/><circle cx="449.1" cy="48.3" r="2.6" fill="#E5736B"/><circle cx="442.2" cy="52.7" r="2.6" fill="#E5736B"/><circle cx="454.2" cy="42.2" r="2.6" fill="#E5736B"/><circle cx="448.5" cy="46.6" r="2.6" fill="#E5736B"/><circle cx="446.6" cy="49.5" r="2.6" fill="#E5736B"/><circle cx="458.3" cy="29.6" r="2.6" fill="#E5736B"/><circle cx="443.3" cy="57.7" r="2.6" fill="#E5736B"/><circle cx="452.5" cy="43.4" r="2.6" fill="#E5736B"/><circle cx="446.6" cy="53.3" r="2.6" fill="#E5736B"/><circle cx="446.2" cy="50.6" r="2.6" fill="#E5736B"/><circle cx="455.3" cy="32.1" r="2.6" fill="#E5736B"/><circle cx="442.7" cy="56.5" r="2.6" fill="#E5736B"/><circle cx="456.9" cy="37.5" r="2.6" fill="#E5736B"/><circle cx="452.4" cy="34.9" r="2.6" fill="#E5736B"/><circle cx="447.3" cy="47.6" r="2.6" fill="#E5736B"/><circle cx="458.8" cy="26.4" r="2.6" fill="#E5736B"/><circle cx="443.1" cy="61.2" r="2.6" fill="#E5736B"/><circle cx="446.1" cy="49.5" r="2.6" fill="#E5736B"/><circle cx="456.8" cy="38.8" r="2.6" fill="#E5736B"/><circle cx="453.4" cy="40.2" r="2.6" fill="#E5736B"/><circle cx="450.0" cy="45.0" r="2.6" fill="#E5736B"/><circle cx="439.9" cy="61.3" r="2.6" fill="#E5736B"/><circle cx="447.7" cy="50.8" r="2.6" fill="#E5736B"/>
<circle cx="425.2" cy="142.3" r="2.6" fill="#E5736B"/>
<circle cx="406.6" cy="152.9" r="2.6" fill="#E5736B"/>
<circle cx="408.0" cy="141.0" r="3" fill="#E5736B"/>
<circle cx="402.0" cy="150.0" r="3" fill="#E5736B"/>
<circle cx="404.0" cy="160.0" r="2.6" fill="#E5736B"/>
<circle cx="439.8" cy="105.1" r="3" fill="#E5736B"/>
<circle cx="441.1" cy="117.0" r="3.2" fill="#E5736B"/>
<circle cx="437.0" cy="118.0" r="3" fill="#E5736B"/>
<circle cx="449.0" cy="97.1" r="2.6" fill="#E5736B"/>
<circle cx="463.7" cy="85.2" r="2.6" fill="#E5736B"/>
<circle cx="414.0" cy="125.0" r="3" fill="#E5736B"/>
<circle cx="418.0" cy="130.0" r="2.6" fill="#E5736B"/>
<circle cx="430.0" cy="110.0" r="2.6" fill="#E5736B"/>
<circle cx="443.0" cy="115.0" r="2.8" fill="#E5736B"/>
<circle cx="400.0" cy="160.0" r="2.6" fill="#E5736B"/>
<circle cx="399.0" cy="168.0" r="2.6" fill="#E5736B"/>
<circle cx="430.0" cy="128.0" r="2.6" fill="#E5736B"/>
<circle cx="434.0" cy="124.0" r="2.6" fill="#E5736B"/>
<circle cx="445.0" cy="108.0" r="2.6" fill="#E5736B"/>
<circle cx="421.0" cy="150.0" r="2.6" fill="#E5736B"/>
<circle cx="416.0" cy="158.0" r="2.6" fill="#E5736B"/>
<circle cx="411.0" cy="146.0" r="2.6" fill="#E5736B"/>
<circle cx="426.0" cy="135.0" r="2.6" fill="#E5736B"/>
<circle cx="436.0" cy="140.0" r="2.6" fill="#E5736B"/>
<circle cx="418.0" cy="138.0" r="2.6" fill="#E5736B"/>
<polygon points="431.5,76.5 446,64.5 459,53.5 457.5,51 444.5,61.5 430.5,72.5" fill="#5EB450" stroke="#5EB450" stroke-width="2"/>
<circle cx="453.0" cy="145.0" r="2.6" fill="#7A99D9"/>
<circle cx="449.8" cy="157.5" r="2.6" fill="#7A99D9"/>
<circle cx="438.5" cy="153.5" r="2.6" fill="#7A99D9"/>
<circle cx="419.9" cy="174.8" r="2.6" fill="#7A99D9"/>
<circle cx="406.6" cy="176.8" r="2.6" fill="#7A99D9"/>
<circle cx="402.7" cy="182.0" r="2.6" fill="#7A99D9"/>
<circle cx="478.3" cy="86.5" r="2.6" fill="#7A99D9"/>
<circle cx="469.0" cy="85.9" r="2.6" fill="#7A99D9"/>
<circle cx="461.5" cy="23.1" r="2.6" fill="#7A99D9"/>
<circle cx="451.6" cy="29.5" r="2.6" fill="#7A99D9"/>
<circle cx="454.0" cy="38.3" r="2.6" fill="#7A99D9"/>
<circle cx="451.0" cy="43.0" r="2.6" fill="#7A99D9"/>
<circle cx="494.2" cy="56.4" r="2.6" fill="#7A99D9"/>
<circle cx="442.8" cy="59.9" r="2.6" fill="#7A99D9"/>
<circle cx="487.8" cy="69.8" r="2.6" fill="#7A99D9"/>
<circle cx="475.5" cy="77.4" r="2.6" fill="#7A99D9"/>
<circle cx="469.1" cy="85.6" r="2.6" fill="#7A99D9"/>
<circle cx="477.9" cy="86.2" r="2.6" fill="#7A99D9"/>
<circle cx="456.9" cy="87.9" r="2.6" fill="#7A99D9"/>
<circle cx="469.1" cy="75.1" r="2.6" fill="#7A99D9"/>
<circle cx="486.0" cy="23.7" r="2.6" fill="#7A99D9"/>
<circle cx="495.4" cy="51.7" r="2.6" fill="#7A99D9"/>
<circle cx="424.0" cy="69.6" r="2.6" fill="#7A99D9"/>
<circle cx="416.1" cy="70.9" r="2.6" fill="#7A99D9"/>
<circle cx="419.4" cy="76.1" r="2.6" fill="#7A99D9"/>
<circle cx="441.8" cy="59.7" r="2.6" fill="#7A99D9"/>
<circle cx="364.2" cy="98.2" r="2.6" fill="#7A99D9"/>
<circle cx="373.0" cy="98.7" r="2.6" fill="#7A99D9"/>
<circle cx="220.7" cy="98.8" r="2.6" fill="#7A99D9"/>
<circle cx="438.0" cy="139.0" r="2.6" fill="#7A99D9"/>
<circle cx="444.0" cy="141.0" r="2.6" fill="#7A99D9"/>
<circle cx="450.0" cy="143.0" r="2.6" fill="#7A99D9"/>
<circle cx="456.0" cy="147.0" r="2.6" fill="#7A99D9"/>
<circle cx="443.0" cy="147.7" r="2.6" fill="#7A99D9"/>
<circle cx="438.4" cy="153.8" r="2.6" fill="#7A99D9"/>
<circle cx="450.0" cy="157.4" r="2.6" fill="#7A99D9"/>
<circle cx="433.8" cy="161.5" r="2.6" fill="#7A99D9"/>
<circle cx="429.7" cy="163.5" r="2.6" fill="#7A99D9"/>
<circle cx="422.6" cy="165.6" r="2.6" fill="#7A99D9"/>
<circle cx="416.5" cy="171.7" r="2.6" fill="#7A99D9"/>
<circle cx="419.5" cy="174.8" r="2.6" fill="#7A99D9"/>
<circle cx="406.2" cy="176.8" r="2.6" fill="#7A99D9"/>
<circle cx="402.1" cy="181.9" r="2.6" fill="#7A99D9"/>
<circle cx="447.0" cy="128.0" r="2.6" fill="#7A99D9"/>
<circle cx="452.0" cy="118.0" r="2.6" fill="#7A99D9"/>
<circle cx="455.0" cy="108.0" r="2.6" fill="#7A99D9"/>
<circle cx="468.0" cy="17.8" r="2.6" fill="#E5736B"/>
<circle cx="500.0" cy="45.9" r="2.6" fill="#E5736B"/>
<circle cx="499.0" cy="58.1" r="2.6" fill="#E5736B"/>
<circle cx="431.8" cy="64.0" r="2.6" fill="#E5736B"/>
<circle cx="437.0" cy="65.1" r="2.6" fill="#E5736B"/>
<circle cx="484.9" cy="70.4" r="2.6" fill="#E5736B"/>
<circle cx="480.2" cy="76.8" r="2.6" fill="#E5736B"/>
<circle cx="463.9" cy="85.6" r="2.6" fill="#E5736B"/>
<circle cx="302.9" cy="96.8" r="2.6" fill="#E5736B"/>
<circle cx="326.0" cy="100.4" r="2.6" fill="#E5736B"/>
<circle cx="333.3" cy="103.4" r="2.6" fill="#E5736B"/>
<circle cx="375.9" cy="89.0" r="2.6" fill="#E5736B"/>
<circle cx="387.6" cy="89.0" r="2.6" fill="#E5736B"/>
<circle cx="391.2" cy="93.9" r="2.6" fill="#E5736B"/>
<circle cx="397.8" cy="80.7" r="2.6" fill="#E5736B"/>
<circle cx="375.9" cy="98.2" r="2.6" fill="#E5736B"/>
<circle cx="387.9" cy="89.3" r="2.6" fill="#E5736B"/>
<circle cx="397.7" cy="79.4" r="2.6" fill="#E5736B"/>
<circle cx="403.0" cy="82.7" r="2.6" fill="#E5736B"/>
<circle cx="391.8" cy="93.9" r="2.6" fill="#E5736B"/>
<circle cx="414.8" cy="71.5" r="2.6" fill="#E5736B"/>
<circle cx="431.2" cy="64.3" r="2.6" fill="#E5736B"/>
<circle cx="436.5" cy="65.6" r="2.6" fill="#E5736B"/>
<circle cx="430.6" cy="71.5" r="2.6" fill="#E5736B"/>
<circle cx="447.0" cy="49.2" r="2.6" fill="#E5736B"/>
<circle cx="303.0" cy="96.7" r="2.6" fill="#E5736B"/>
<line x1="92" y1="364.2" x2="517" y2="2" stroke="#111" stroke-width="1.3"/>
<polyline points="178.7,103.3 183.0,103.7 187.3,104.1 191.6,104.4 195.9,104.8 200.2,105.2 204.5,105.5 208.8,105.8 213.1,106.1 217.4,106.4 221.7,106.7 226.0,107.0 230.3,107.2 234.6,107.4 238.9,107.6 243.3,107.8 247.6,107.9 251.9,108.1 256.2,108.2 260.5,108.2 264.8,108.2 269.1,108.3 273.4,108.2 277.7,108.2 282.0,108.1 286.3,107.9 290.6,107.8 294.9,107.6 299.2,107.3 303.5,107.0 307.8,106.7 312.1,106.3 316.4,105.9 320.7,105.5 325.0,104.9 329.3,104.4 333.6,103.8 337.9,103.1 342.2,102.4 346.5,101.7 350.8,100.8 355.1,100.0 359.4,99.0 363.7,98.0 368.0,97.0 372.4,95.9 376.7,94.7 381.0,93.5 385.3,92.1 389.6,90.8 393.9,89.3 398.2,87.8 402.5,86.2 406.8,84.6 411.1,82.8 415.4,81.0 419.7,79.1 424.0,77.2 428.3,75.1 432.6,73.9 450.0,60.5 467.4,48.2" fill="none" stroke="#111" stroke-width="1.3" stroke-linejoin="round"/>
<polyline points="398.4,275.4 398.2,272.5 398.0,269.6 397.8,266.6 397.7,263.7 397.5,260.8 397.3,257.9 397.1,255.0 396.8,252.0 396.6,249.1 396.4,246.2 396.2,243.3 396.0,240.4 395.8,237.4 395.6,234.5 395.4,231.6 395.2,228.7 395.0,225.8 394.8,222.8 394.7,219.9 394.5,217.0 394.4,214.1 394.2,211.2 394.1,208.2 394.0,205.3 394.0,202.4 393.9,199.5 393.9,196.6 393.8,193.6 393.8,190.7 393.9,187.8 393.9,184.9 394.0,182.0 394.1,179.0 394.3,176.1 394.5,173.2 394.7,170.3 394.9,167.3 395.2,164.4 395.5,161.5 395.9,158.6 396.3,155.7 396.8,152.7 397.3,149.8 397.8,146.9 398.4,144.0 399.1,141.1 399.8,138.1 400.5,135.2 401.3,132.3 402.2,129.4 403.2,126.5 404.2,123.5 405.2,120.6 406.3,117.7 407.5,114.8 408.8,111.9 410.2,108.9 411.6,106.0 413.1,103.1 414.7,100.2 416.3,97.3 418.1,94.3 419.9,91.4 421.8,88.5 423.8,85.6 425.9,82.7 428.1,79.7 430.4,76.8 432.6,73.9 448.0,58.5 463.6,45.0" fill="none" stroke="#111" stroke-width="1.3" stroke-linejoin="round"/>
<text x="11.3" y="12" font-family="Liberation Sans, sans-serif" font-weight="bold" font-size="20.5" fill="#000" stroke="#000" stroke-width="0.2">a</text>
<text x="62.3" y="55.9" font-family="Liberation Sans, sans-serif" font-size="12.6" fill="#1a1a1a" text-anchor="end" stroke="#1a1a1a" stroke-width="0.2">0</text>
<text x="460.0" y="400.5" font-family="Liberation Sans, sans-serif" font-size="12.6" fill="#1a1a1a" text-anchor="middle" stroke="#1a1a1a" stroke-width="0.2">0</text>
<text x="62.3" y="118.4" font-family="Liberation Sans, sans-serif" font-size="12.6" fill="#1a1a1a" text-anchor="end" stroke="#1a1a1a" stroke-width="0.2">−5</text>
<text x="386.4" y="400.5" font-family="Liberation Sans, sans-serif" font-size="12.6" fill="#1a1a1a" text-anchor="middle" stroke="#1a1a1a" stroke-width="0.2">−5</text>
<text x="62.3" y="180.9" font-family="Liberation Sans, sans-serif" font-size="12.6" fill="#1a1a1a" text-anchor="end" stroke="#1a1a1a" stroke-width="0.2">−10</text>
<text x="312.8" y="400.5" font-family="Liberation Sans, sans-serif" font-size="12.6" fill="#1a1a1a" text-anchor="middle" stroke="#1a1a1a" stroke-width="0.2">−10</text>
<text x="62.3" y="243.4" font-family="Liberation Sans, sans-serif" font-size="12.6" fill="#1a1a1a" text-anchor="end" stroke="#1a1a1a" stroke-width="0.2">−15</text>
<text x="239.2" y="400.5" font-family="Liberation Sans, sans-serif" font-size="12.6" fill="#1a1a1a" text-anchor="middle" stroke="#1a1a1a" stroke-width="0.2">−15</text>
<text x="62.3" y="305.9" font-family="Liberation Sans, sans-serif" font-size="12.6" fill="#1a1a1a" text-anchor="end" stroke="#1a1a1a" stroke-width="0.2">−20</text>
<text x="165.6" y="400.5" font-family="Liberation Sans, sans-serif" font-size="12.6" fill="#1a1a1a" text-anchor="middle" stroke="#1a1a1a" stroke-width="0.2">−20</text>
<text x="62.3" y="368.4" font-family="Liberation Sans, sans-serif" font-size="12.6" fill="#1a1a1a" text-anchor="end" stroke="#1a1a1a" stroke-width="0.2">-inf</text>
<text x="92.0" y="400.5" font-family="Liberation Sans, sans-serif" font-size="12.6" fill="#1a1a1a" text-anchor="middle" stroke="#1a1a1a" stroke-width="0.2">-inf</text>
<text x="299.3" y="419.4" font-family="Liberation Sans, sans-serif" font-size="12.5" fill="#111" text-anchor="middle" stroke="#111" stroke-width="0.2"><tspan font-style="italic">Ks</tspan> (log2)</text>
<text transform="translate(26.3,197.6) rotate(-90)" font-family="Liberation Sans, sans-serif" font-size="12.5" fill="#111" text-anchor="middle" stroke="#111" stroke-width="0.2"><tspan font-style="italic">Ka</tspan> (log2)</text>
<text x="78.2" y="54.3" font-family="Liberation Sans, sans-serif" font-size="10.35" fill="#111"  stroke="#111" stroke-width="0.2"><tspan font-style="italic">Ka</tspan><tspan dx="1.3">&gt;</tspan><tspan dx="1.3">0, </tspan><tspan font-style="italic">Ks</tspan><tspan dx="0.5">=0</tspan></text>
<text x="78" y="70" font-family="Liberation Sans, sans-serif" font-size="10.35" fill="#E27770"  stroke="#E27770" stroke-width="0.2">CC=1,364</text>
<text x="78.2" y="85.8" font-family="Liberation Sans, sans-serif" font-size="10.35" fill="#7C99D8"  stroke="#7C99D8" stroke-width="0.2">WC=126</text>
<text x="288" y="58.4" font-family="Liberation Sans, sans-serif" font-size="10.35" fill="#111"  stroke="#111" stroke-width="0.2"><tspan font-style="italic">Ka</tspan><tspan font-style="italic" dx="0.5">/</tspan><tspan font-style="italic" dx="0.5">Ks</tspan><tspan dx="0.6">&lt;</tspan><tspan dx="0.6">1</tspan></text>
<text x="286" y="73.8" font-family="Liberation Sans, sans-serif" font-size="10.35" fill="#E27770"  stroke="#E27770" stroke-width="0.2">CC=393</text>
<text x="288" y="90.4" font-family="Liberation Sans, sans-serif" font-size="10.35" fill="#7C99D8"  stroke="#7C99D8" stroke-width="0.2">WC=436</text>
<text x="448" y="179.5" font-family="Liberation Sans, sans-serif" font-size="10.35" fill="#111"  stroke="#111" stroke-width="0.2"><tspan font-style="italic">Ka</tspan><tspan font-style="italic" dx="0.5">/</tspan><tspan font-style="italic" dx="0.5">Ks</tspan><tspan dx="0.7">&gt;</tspan><tspan dx="0.7">1</tspan></text>
<text x="447" y="195" font-family="Liberation Sans, sans-serif" font-size="10.35" fill="#E27770"  stroke="#E27770" stroke-width="0.2">CC=643</text>
<text x="448" y="210.2" font-family="Liberation Sans, sans-serif" font-size="10.35" fill="#7C99D8"  stroke="#7C99D8" stroke-width="0.2">WC=2,818</text>
<text x="263.1" y="247.1" font-family="Liberation Sans, sans-serif" font-size="10.35" fill="#111"  stroke="#111" stroke-width="0.2"><tspan font-style="italic">Ka</tspan><tspan font-style="italic" dx="0.5">/</tspan><tspan font-style="italic" dx="0.5">Ks</tspan><tspan dx="0.3">=1±0.05</tspan></text>
<text x="263.5" y="262.9" font-family="Liberation Sans, sans-serif" font-size="10.35" fill="#69B95A"  stroke="#69B95A" stroke-width="0.2">CC=5,792</text>
<text x="263.5" y="278" font-family="Liberation Sans, sans-serif" font-size="10.35" fill="#69B95A"  stroke="#69B95A" stroke-width="0.2">WC=9,298</text>
<text x="104.5" y="329.7" font-family="Liberation Sans, sans-serif" font-size="10.35" fill="#111"  stroke="#111" stroke-width="0.2"><tspan font-style="italic">Ka</tspan>=0, <tspan font-style="italic">Ks</tspan>=0</text>
<text x="104" y="345.8" font-family="Liberation Sans, sans-serif" font-size="10.35" fill="#E27770"  stroke="#E27770" stroke-width="0.2">CC=3,318</text>
<text x="106.3" y="360.4" font-family="Liberation Sans, sans-serif" font-size="10.35" fill="#7C99D8"  stroke="#7C99D8" stroke-width="0.2">WC=20</text>
<text x="433.5" y="325.1" font-family="Liberation Sans, sans-serif" font-size="10.35" fill="#111"  stroke="#111" stroke-width="0.2"><tspan font-style="italic">Ka</tspan>=0, <tspan font-style="italic">Ks</tspan><tspan dx="1.3">&gt;</tspan><tspan dx="1.3">0</tspan></text>
<text x="430.7" y="340.3" font-family="Liberation Sans, sans-serif" font-size="10.35" fill="#E27770"  stroke="#E27770" stroke-width="0.2">CC=1,660</text>
<text x="432.7" y="358.2" font-family="Liberation Sans, sans-serif" font-size="10.35" fill="#7C99D8"  stroke="#7C99D8" stroke-width="0.2">WC=275</text>
<text x="532.5" y="154.6" font-family="Liberation Sans, sans-serif" font-size="12.5" fill="#111"  stroke="#111" stroke-width="0.2">Colour</text>
<rect x="537.3" y="162.0" width="24.6" height="23.3" fill="#EBEBEB"/>
<circle cx="549.5" cy="173.8" r="1.7" fill="#E5736B"/>
<text x="570.6" y="178.3" font-family="Liberation Sans, sans-serif" font-size="12.5" fill="#111"  stroke="#111" stroke-width="0.2">CC (cultivar-cultivar)</text>
<rect x="537.3" y="186.3" width="24.6" height="23.3" fill="#EBEBEB"/>
<circle cx="549.5" cy="198.1" r="1.7" fill="#5EB450"/>
<text x="570.6" y="202.6" font-family="Liberation Sans, sans-serif" font-size="12.5" fill="#111"  stroke="#111" stroke-width="0.2">Neutral selection</text>
<rect x="537.3" y="210.6" width="24.6" height="23.3" fill="#EBEBEB"/>
<circle cx="549.5" cy="222.4" r="1.7" fill="#7A99D9"/>
<text x="570.6" y="226.9" font-family="Liberation Sans, sans-serif" font-size="12.5" fill="#111"  stroke="#111" stroke-width="0.2">wc (wild-cultivar)</text>
<text x="11.2" y="448.5" font-family="Liberation Sans, sans-serif" font-weight="bold" font-size="20.5" fill="#000" stroke="#000" stroke-width="0.2">b</text>
<text x="143.8" y="457.8" font-family="Liberation Sans, sans-serif" font-size="12.5" fill="#111" stroke="#111" stroke-width="0.2">Storage root</text>
<text x="247.3" y="457.8" font-family="Liberation Sans, sans-serif" font-size="12.5" fill="#111" stroke="#111" stroke-width="0.2">Leaf</text>
<line x1="143.8" y1="462" x2="212.5" y2="462" stroke="#9DB3DF" stroke-width="0.9"/>
<line x1="223.8" y1="462" x2="291.6" y2="462" stroke="#9DB3DF" stroke-width="0.9"/>
<text x="143.8" y="471.8" font-family="Liberation Sans, sans-serif" font-size="9.4" fill="#111" stroke="#111" stroke-width="0.25">Arg7</text>
<text x="167.9" y="471.8" font-family="Liberation Sans, sans-serif" font-size="9.4" fill="#111" stroke="#111" stroke-width="0.25">KU50</text>
<text x="195.2" y="471.8" font-family="Liberation Sans, sans-serif" font-size="9.4" fill="#111" stroke="#111" stroke-width="0.25">W14</text>
<text x="223.8" y="471.8" font-family="Liberation Sans, sans-serif" font-size="9.4" fill="#111" stroke="#111" stroke-width="0.25">Arg7</text>
<text x="247.4" y="471.8" font-family="Liberation Sans, sans-serif" font-size="9.4" fill="#111" stroke="#111" stroke-width="0.25">KU50</text>
<text x="275.8" y="471.8" font-family="Liberation Sans, sans-serif" font-size="9.4" fill="#111" stroke="#111" stroke-width="0.25">W14</text>
<text x="302.9" y="458.2" font-family="Liberation Sans, sans-serif" font-size="12.2" fill="#111" stroke="#111" stroke-width="0.2">% of max</text>
<text x="310.4" y="473" font-family="Liberation Sans, sans-serif" font-size="12.6" fill="#111" stroke="#111" stroke-width="0.2">FPKM</text>
<rect x="310.80" y="480.00" width="4.30" height="16.80" fill="#CF282C"/>
<rect x="310.80" y="496.50" width="4.30" height="16.80" fill="#D3372E"/>
<rect x="310.80" y="513.00" width="4.30" height="16.80" fill="#D7482F"/>
<rect x="310.80" y="529.50" width="4.30" height="16.80" fill="#DB5C31"/>
<rect x="310.80" y="546.00" width="4.30" height="16.80" fill="#E07033"/>
<rect x="310.80" y="562.50" width="4.30" height="16.80" fill="#E48535"/>
<rect x="310.80" y="579.00" width="4.30" height="16.80" fill="#E89A37"/>
<rect x="310.80" y="595.50" width="4.30" height="16.80" fill="#ECAF3A"/>
<rect x="310.80" y="612.00" width="4.30" height="16.80" fill="#EFC33D"/>
<rect x="310.80" y="628.50" width="4.30" height="16.80" fill="#F2D640"/>
<rect x="310.80" y="645.00" width="4.30" height="16.80" fill="#F5E544"/>
<text x="318.8" y="490.6" font-family="Liberation Sans, sans-serif" font-size="11.8" fill="#111" stroke="#111" stroke-width="0.2">100</text>
<text x="318.8" y="507.0" font-family="Liberation Sans, sans-serif" font-size="11.8" fill="#111" stroke="#111" stroke-width="0.2">90</text>
<text x="318.8" y="523.4" font-family="Liberation Sans, sans-serif" font-size="11.8" fill="#111" stroke="#111" stroke-width="0.2">80</text>
<text x="318.8" y="539.8" font-family="Liberation Sans, sans-serif" font-size="11.8" fill="#111" stroke="#111" stroke-width="0.2">70</text>
<text x="318.8" y="556.2" font-family="Liberation Sans, sans-serif" font-size="11.8" fill="#111" stroke="#111" stroke-width="0.2">60</text>
<text x="318.8" y="572.6" font-family="Liberation Sans, sans-serif" font-size="11.8" fill="#111" stroke="#111" stroke-width="0.2">50</text>
<text x="318.8" y="589.0" font-family="Liberation Sans, sans-serif" font-size="11.8" fill="#111" stroke="#111" stroke-width="0.2">40</text>
<text x="318.8" y="605.4" font-family="Liberation Sans, sans-serif" font-size="11.8" fill="#111" stroke="#111" stroke-width="0.2">30</text>
<text x="318.8" y="621.8" font-family="Liberation Sans, sans-serif" font-size="11.8" fill="#111" stroke="#111" stroke-width="0.2">20</text>
<text x="318.8" y="638.2" font-family="Liberation Sans, sans-serif" font-size="11.8" fill="#111" stroke="#111" stroke-width="0.2">10</text>
<text x="318.8" y="654.6" font-family="Liberation Sans, sans-serif" font-size="11.8" fill="#111" stroke="#111" stroke-width="0.2">0</text>
<rect x="143.80" y="473.80" width="26.07" height="62.60" fill="#F5E544"/><rect x="143.80" y="475.30" width="26.07" height="0.60" fill="#F6E85E"/><rect x="143.80" y="478.40" width="26.07" height="0.60" fill="#F6E85E"/><rect x="143.80" y="481.50" width="26.07" height="0.60" fill="#F6E85E"/><rect x="143.80" y="484.60" width="26.07" height="0.60" fill="#F6E85E"/><rect x="143.80" y="487.70" width="26.07" height="0.60" fill="#F6E85E"/><rect x="143.80" y="490.80" width="26.07" height="0.60" fill="#F6E85E"/><rect x="143.80" y="493.90" width="26.07" height="0.60" fill="#F6E85E"/><rect x="143.80" y="497.00" width="26.07" height="0.60" fill="#F6E85E"/><rect x="143.80" y="500.10" width="26.07" height="0.60" fill="#F6E85E"/><rect x="143.80" y="503.20" width="26.07" height="0.60" fill="#F6E85E"/><rect x="143.80" y="506.30" width="26.07" height="0.60" fill="#F6E85E"/><rect x="143.80" y="509.40" width="26.07" height="0.60" fill="#F6E85E"/><rect x="143.80" y="512.50" width="26.07" height="0.60" fill="#F6E85E"/><rect x="143.80" y="515.60" width="26.07" height="0.60" fill="#F6E85E"/><rect x="143.80" y="518.70" width="26.07" height="0.60" fill="#F6E85E"/><rect x="143.80" y="521.80" width="26.07" height="0.60" fill="#F6E85E"/><rect x="143.80" y="524.90" width="26.07" height="0.60" fill="#F6E85E"/><rect x="143.80" y="528.00" width="26.07" height="0.60" fill="#F6E85E"/><rect x="143.80" y="531.10" width="26.07" height="0.60" fill="#F6E85E"/><rect x="143.80" y="534.20" width="26.07" height="0.60" fill="#F6E85E"/><rect x="143.80" y="480.80" width="26.07" height="1.10" fill="#E9A53C"/><rect x="169.87" y="473.80" width="26.07" height="62.60" fill="#F5E544"/><rect x="169.87" y="475.30" width="26.07" height="0.60" fill="#F6E85E"/><rect x="169.87" y="478.40" width="26.07" height="0.60" fill="#F6E85E"/><rect x="169.87" y="481.50" width="26.07" height="0.60" fill="#F6E85E"/><rect x="169.87" y="484.60" width="26.07" height="0.60" fill="#F6E85E"/><rect x="169.87" y="487.70" width="26.07" height="0.60" fill="#F6E85E"/><rect x="169.87" y="490.80" width="26.07" height="0.60" fill="#F6E85E"/><rect x="169.87" y="493.90" width="26.07" height="0.60" fill="#F6E85E"/><rect x="169.87" y="497.00" width="26.07" height="0.60" fill="#F6E85E"/><rect x="169.87" y="500.10" width="26.07" height="0.60" fill="#F6E85E"/><rect x="169.87" y="503.20" width="26.07" height="0.60" fill="#F6E85E"/><rect x="169.87" y="506.30" width="26.07" height="0.60" fill="#F6E85E"/><rect x="169.87" y="509.40" width="26.07" height="0.60" fill="#F6E85E"/><rect x="169.87" y="512.50" width="26.07" height="0.60" fill="#F6E85E"/><rect x="169.87" y="515.60" width="26.07" height="0.60" fill="#F6E85E"/><rect x="169.87" y="518.70" width="26.07" height="0.60" fill="#F6E85E"/><rect x="169.87" y="521.80" width="26.07" height="0.60" fill="#F6E85E"/><rect x="169.87" y="524.90" width="26.07" height="0.60" fill="#F6E85E"/><rect x="169.87" y="528.00" width="26.07" height="0.60" fill="#F6E85E"/><rect x="169.87" y="531.10" width="26.07" height="0.60" fill="#F6E85E"/><rect x="169.87" y="534.20" width="26.07" height="0.60" fill="#F6E85E"/><rect x="169.87" y="512.80" width="26.07" height="0.80" fill="#F2D040"/><rect x="195.93" y="473.80" width="26.07" height="62.60" fill="#F5E544"/><rect x="195.93" y="475.30" width="26.07" height="0.60" fill="#F6E85E"/><rect x="195.93" y="478.40" width="26.07" height="0.60" fill="#F6E85E"/><rect x="195.93" y="481.50" width="26.07" height="0.60" fill="#F6E85E"/><rect x="195.93" y="484.60" width="26.07" height="0.60" fill="#F6E85E"/><rect x="195.93" y="487.70" width="26.07" height="0.60" fill="#F6E85E"/><rect x="195.93" y="490.80" width="26.07" height="0.60" fill="#F6E85E"/><rect x="195.93" y="493.90" width="26.07" height="0.60" fill="#F6E85E"/><rect x="195.93" y="497.00" width="26.07" height="0.60" fill="#F6E85E"/><rect x="195.93" y="500.10" width="26.07" height="0.60" fill="#F6E85E"/><rect x="195.93" y="503.20" width="26.07" height="0.60" fill="#F6E85E"/><rect x="195.93" y="506.30" width="26.07" height="0.60" fill="#F6E85E"/><rect x="195.93" y="509.40" width="26.07" height="0.60" fill="#F6E85E"/><rect x="195.93" y="512.50" width="26.07" height="0.60" fill="#F6E85E"/><rect x="195.93" y="515.60" width="26.07" height="0.60" fill="#F6E85E"/><rect x="195.93" y="518.70" width="26.07" height="0.60" fill="#F6E85E"/><rect x="195.93" y="521.80" width="26.07" height="0.60" fill="#F6E85E"/><rect x="195.93" y="524.90" width="26.07" height="0.60" fill="#F6E85E"/><rect x="195.93" y="528.00" width="26.07" height="0.60" fill="#F6E85E"/><rect x="195.93" y="531.10" width="26.07" height="0.60" fill="#F6E85E"/><rect x="195.93" y="534.20" width="26.07" height="0.60" fill="#F6E85E"/><rect x="195.93" y="480.60" width="26.07" height="1.30" fill="#E38A34"/><rect x="195.93" y="504.50" width="26.07" height="1.30" fill="#E38A34"/><rect x="222.00" y="473.80" width="26.07" height="62.60" fill="#F5E544"/><rect x="222.00" y="473.80" width="26.07" height="6.40" fill="#D63A3A"/><rect x="222.00" y="480.20" width="26.07" height="1.80" fill="#E6875A"/><rect x="222.00" y="482.00" width="26.07" height="2.00" fill="#F0C43E"/><rect x="222.00" y="484.00" width="26.07" height="5.00" fill="#DB4C4A"/><rect x="222.00" y="489.00" width="26.07" height="2.00" fill="#E8904A"/><rect x="222.00" y="491.00" width="26.07" height="10.70" fill="#D84646"/><rect x="222.00" y="501.70" width="26.07" height="1.80" fill="#F0C43E"/><rect x="222.00" y="503.50" width="26.07" height="2.70" fill="#F3D942"/><rect x="222.00" y="506.20" width="26.07" height="1.80" fill="#D5392E"/><rect x="222.00" y="508.00" width="26.07" height="4.00" fill="#E0705A"/><rect x="222.00" y="512.00" width="26.07" height="17.70" fill="#D84444"/><rect x="222.00" y="529.70" width="26.07" height="2.50" fill="#EBA63A"/><rect x="222.00" y="532.20" width="26.07" height="4.20" fill="#F3D942"/><rect x="248.07" y="473.80" width="26.07" height="62.60" fill="#F5E544"/><rect x="248.07" y="473.80" width="26.07" height="1.90" fill="#F0C43E"/><rect x="248.07" y="475.70" width="26.07" height="1.80" fill="#E07832"/><rect x="248.07" y="477.50" width="26.07" height="3.00" fill="#F5E544"/><rect x="248.07" y="480.50" width="26.07" height="1.50" fill="#E89337"/><rect x="248.07" y="482.00" width="26.07" height="2.00" fill="#F0C43E"/><rect x="248.07" y="484.00" width="26.07" height="2.50" fill="#F5E544"/><rect x="248.07" y="486.50" width="26.07" height="3.80" fill="#E8904A"/><rect x="248.07" y="490.30" width="26.07" height="5.10" fill="#E07040"/><rect x="248.07" y="495.40" width="26.07" height="5.10" fill="#E99040"/><rect x="248.07" y="500.50" width="26.07" height="3.20" fill="#D5392E"/><rect x="248.07" y="503.70" width="26.07" height="2.50" fill="#F5E544"/><rect x="248.07" y="506.20" width="26.07" height="1.80" fill="#E89337"/><rect x="248.07" y="508.00" width="26.07" height="4.00" fill="#DB4C4A"/><rect x="248.07" y="512.00" width="26.07" height="5.00" fill="#DE6040"/><rect x="248.07" y="517.00" width="26.07" height="4.00" fill="#E58540"/><rect x="248.07" y="521.00" width="26.07" height="2.50" fill="#F0C43E"/><rect x="248.07" y="523.50" width="26.07" height="3.00" fill="#F3D942"/><rect x="248.07" y="526.50" width="26.07" height="5.70" fill="#DB4C4A"/><rect x="248.07" y="532.20" width="26.07" height="4.20" fill="#F5E544"/><rect x="274.13" y="473.80" width="26.07" height="62.60" fill="#F5E544"/><rect x="274.13" y="473.80" width="26.07" height="2.20" fill="#F0C43E"/><rect x="274.13" y="476.00" width="26.07" height="1.50" fill="#E07832"/><rect x="274.13" y="477.50" width="26.07" height="3.30" fill="#F5E544"/><rect x="274.13" y="480.80" width="26.07" height="1.20" fill="#E07832"/><rect x="274.13" y="482.00" width="26.07" height="2.00" fill="#F0C43E"/><rect x="274.13" y="484.00" width="26.07" height="1.50" fill="#E07832"/><rect x="274.13" y="488.00" width="26.07" height="0.80" fill="#F3D942"/><rect x="274.13" y="492.00" width="26.07" height="0.80" fill="#F3D942"/><rect x="274.13" y="503.70" width="26.07" height="2.50" fill="#D5392E"/><rect x="274.13" y="506.20" width="26.07" height="2.80" fill="#F0C43E"/><rect x="274.13" y="515.00" width="26.07" height="0.80" fill="#F3D942"/><rect x="274.13" y="520.00" width="26.07" height="0.80" fill="#F3D942"/><rect x="274.13" y="532.20" width="26.07" height="4.20" fill="#D5392E"/><line x1="169.87" y1="473.8" x2="169.87" y2="536.4" stroke="#FFFFFF" stroke-opacity="0.55" stroke-width="0.8"/><line x1="195.93" y1="473.8" x2="195.93" y2="536.4" stroke="#FFFFFF" stroke-opacity="0.55" stroke-width="0.8"/><line x1="222.00" y1="473.8" x2="222.00" y2="536.4" stroke="#FFFFFF" stroke-opacity="0.55" stroke-width="0.8"/><line x1="248.07" y1="473.8" x2="248.07" y2="536.4" stroke="#FFFFFF" stroke-opacity="0.55" stroke-width="0.8"/><line x1="274.13" y1="473.8" x2="274.13" y2="536.4" stroke="#FFFFFF" stroke-opacity="0.55" stroke-width="0.8"/>
<rect x="143.80" y="546.30" width="26.67" height="41.40" fill="#F5E544"/><rect x="143.80" y="547.80" width="26.67" height="0.60" fill="#F6E85E"/><rect x="143.80" y="550.90" width="26.67" height="0.60" fill="#F6E85E"/><rect x="143.80" y="554.00" width="26.67" height="0.60" fill="#F6E85E"/><rect x="143.80" y="557.10" width="26.67" height="0.60" fill="#F6E85E"/><rect x="143.80" y="560.20" width="26.67" height="0.60" fill="#F6E85E"/><rect x="143.80" y="563.30" width="26.67" height="0.60" fill="#F6E85E"/><rect x="143.80" y="566.40" width="26.67" height="0.60" fill="#F6E85E"/><rect x="143.80" y="569.50" width="26.67" height="0.60" fill="#F6E85E"/><rect x="143.80" y="572.60" width="26.67" height="0.60" fill="#F6E85E"/><rect x="143.80" y="575.70" width="26.67" height="0.60" fill="#F6E85E"/><rect x="143.80" y="578.80" width="26.67" height="0.60" fill="#F6E85E"/><rect x="143.80" y="581.90" width="26.67" height="0.60" fill="#F6E85E"/><rect x="143.80" y="585.00" width="26.67" height="0.60" fill="#F6E85E"/><rect x="143.80" y="557.90" width="26.67" height="1.40" fill="#E07832"/><rect x="143.80" y="585.60" width="26.67" height="2.10" fill="#F0C43E"/><rect x="170.47" y="546.30" width="26.67" height="41.40" fill="#F5E544"/><rect x="170.47" y="547.80" width="26.67" height="0.60" fill="#F6E85E"/><rect x="170.47" y="550.90" width="26.67" height="0.60" fill="#F6E85E"/><rect x="170.47" y="554.00" width="26.67" height="0.60" fill="#F6E85E"/><rect x="170.47" y="557.10" width="26.67" height="0.60" fill="#F6E85E"/><rect x="170.47" y="560.20" width="26.67" height="0.60" fill="#F6E85E"/><rect x="170.47" y="563.30" width="26.67" height="0.60" fill="#F6E85E"/><rect x="170.47" y="566.40" width="26.67" height="0.60" fill="#F6E85E"/><rect x="170.47" y="569.50" width="26.67" height="0.60" fill="#F6E85E"/><rect x="170.47" y="572.60" width="26.67" height="0.60" fill="#F6E85E"/><rect x="170.47" y="575.70" width="26.67" height="0.60" fill="#F6E85E"/><rect x="170.47" y="578.80" width="26.67" height="0.60" fill="#F6E85E"/><rect x="170.47" y="581.90" width="26.67" height="0.60" fill="#F6E85E"/><rect x="170.47" y="585.00" width="26.67" height="0.60" fill="#F6E85E"/><rect x="170.47" y="558.10" width="26.67" height="1.00" fill="#E89337"/><rect x="170.47" y="585.60" width="26.67" height="2.10" fill="#F0C43E"/><rect x="197.13" y="546.30" width="26.67" height="41.40" fill="#F5E544"/><rect x="197.13" y="547.80" width="26.67" height="0.60" fill="#F6E85E"/><rect x="197.13" y="550.90" width="26.67" height="0.60" fill="#F6E85E"/><rect x="197.13" y="554.00" width="26.67" height="0.60" fill="#F6E85E"/><rect x="197.13" y="557.10" width="26.67" height="0.60" fill="#F6E85E"/><rect x="197.13" y="560.20" width="26.67" height="0.60" fill="#F6E85E"/><rect x="197.13" y="563.30" width="26.67" height="0.60" fill="#F6E85E"/><rect x="197.13" y="566.40" width="26.67" height="0.60" fill="#F6E85E"/><rect x="197.13" y="569.50" width="26.67" height="0.60" fill="#F6E85E"/><rect x="197.13" y="572.60" width="26.67" height="0.60" fill="#F6E85E"/><rect x="197.13" y="575.70" width="26.67" height="0.60" fill="#F6E85E"/><rect x="197.13" y="578.80" width="26.67" height="0.60" fill="#F6E85E"/><rect x="197.13" y="581.90" width="26.67" height="0.60" fill="#F6E85E"/><rect x="197.13" y="585.00" width="26.67" height="0.60" fill="#F6E85E"/><rect x="197.13" y="557.90" width="26.67" height="1.40" fill="#E07832"/><rect x="197.13" y="585.60" width="26.67" height="2.10" fill="#F0C43E"/><rect x="223.80" y="546.30" width="26.67" height="41.40" fill="#F5E544"/><rect x="223.80" y="546.30" width="26.67" height="41.40" fill="#D4302E"/><rect x="223.80" y="560.00" width="26.67" height="3.60" fill="#E07832"/><rect x="223.80" y="569.80" width="26.67" height="2.50" fill="#E07832"/><rect x="223.80" y="578.50" width="26.67" height="3.70" fill="#E89337"/><rect x="250.47" y="546.30" width="26.67" height="41.40" fill="#F5E544"/><rect x="250.47" y="546.30" width="26.67" height="2.40" fill="#D5392E"/><rect x="250.47" y="548.70" width="26.67" height="3.70" fill="#F0C43E"/><rect x="250.47" y="552.40" width="26.67" height="2.50" fill="#E07832"/><rect x="250.47" y="554.90" width="26.67" height="3.70" fill="#F3D942"/><rect x="250.47" y="558.60" width="26.67" height="3.70" fill="#D5392E"/><rect x="250.47" y="562.30" width="26.67" height="5.00" fill="#EDB03C"/><rect x="250.47" y="567.30" width="26.67" height="3.70" fill="#E07832"/><rect x="250.47" y="571.00" width="26.67" height="3.70" fill="#D5392E"/><rect x="250.47" y="574.70" width="26.67" height="3.80" fill="#F5E544"/><rect x="250.47" y="578.50" width="26.67" height="9.20" fill="#D5392E"/><rect x="277.13" y="546.30" width="26.67" height="41.40" fill="#F5E544"/><rect x="277.13" y="546.30" width="26.67" height="3.70" fill="#F5E544"/><rect x="277.13" y="550.00" width="26.67" height="2.40" fill="#E07832"/><rect x="277.13" y="552.40" width="26.67" height="6.60" fill="#F3D942"/><rect x="277.13" y="559.00" width="26.67" height="2.00" fill="#F0C43E"/><rect x="277.13" y="561.00" width="26.67" height="8.30" fill="#F5E544"/><rect x="277.13" y="569.30" width="26.67" height="2.50" fill="#DA5A30"/><rect x="277.13" y="571.80" width="26.67" height="9.20" fill="#F5E544"/><rect x="277.13" y="581.00" width="26.67" height="3.70" fill="#DA5A30"/><rect x="277.13" y="584.70" width="26.67" height="3.00" fill="#F0C43E"/><line x1="170.47" y1="546.3" x2="170.47" y2="587.7" stroke="#FFFFFF" stroke-opacity="0.55" stroke-width="0.8"/><line x1="197.13" y1="546.3" x2="197.13" y2="587.7" stroke="#FFFFFF" stroke-opacity="0.55" stroke-width="0.8"/><line x1="223.80" y1="546.3" x2="223.80" y2="587.7" stroke="#FFFFFF" stroke-opacity="0.55" stroke-width="0.8"/><line x1="250.47" y1="546.3" x2="250.47" y2="587.7" stroke="#FFFFFF" stroke-opacity="0.55" stroke-width="0.8"/><line x1="277.13" y1="546.3" x2="277.13" y2="587.7" stroke="#FFFFFF" stroke-opacity="0.55" stroke-width="0.8"/>
<rect x="143.80" y="595.90" width="26.47" height="32.30" fill="#F5E544"/><rect x="143.80" y="597.40" width="26.47" height="0.60" fill="#F6E85E"/><rect x="143.80" y="600.50" width="26.47" height="0.60" fill="#F6E85E"/><rect x="143.80" y="603.60" width="26.47" height="0.60" fill="#F6E85E"/><rect x="143.80" y="606.70" width="26.47" height="0.60" fill="#F6E85E"/><rect x="143.80" y="609.80" width="26.47" height="0.60" fill="#F6E85E"/><rect x="143.80" y="612.90" width="26.47" height="0.60" fill="#F6E85E"/><rect x="143.80" y="616.00" width="26.47" height="0.60" fill="#F6E85E"/><rect x="143.80" y="619.10" width="26.47" height="0.60" fill="#F6E85E"/><rect x="143.80" y="622.20" width="26.47" height="0.60" fill="#F6E85E"/><rect x="143.80" y="625.30" width="26.47" height="0.60" fill="#F6E85E"/><rect x="143.80" y="614.80" width="26.47" height="3.80" fill="#F0C43E"/><rect x="143.80" y="619.60" width="26.47" height="3.60" fill="#EDB03A"/><rect x="170.27" y="595.90" width="26.47" height="32.30" fill="#F5E544"/><rect x="170.27" y="597.40" width="26.47" height="0.60" fill="#F6E85E"/><rect x="170.27" y="600.50" width="26.47" height="0.60" fill="#F6E85E"/><rect x="170.27" y="603.60" width="26.47" height="0.60" fill="#F6E85E"/><rect x="170.27" y="606.70" width="26.47" height="0.60" fill="#F6E85E"/><rect x="170.27" y="609.80" width="26.47" height="0.60" fill="#F6E85E"/><rect x="170.27" y="612.90" width="26.47" height="0.60" fill="#F6E85E"/><rect x="170.27" y="616.00" width="26.47" height="0.60" fill="#F6E85E"/><rect x="170.27" y="619.10" width="26.47" height="0.60" fill="#F6E85E"/><rect x="170.27" y="622.20" width="26.47" height="0.60" fill="#F6E85E"/><rect x="170.27" y="625.30" width="26.47" height="0.60" fill="#F6E85E"/><rect x="170.27" y="614.80" width="26.47" height="3.80" fill="#F0C43E"/><rect x="170.27" y="619.60" width="26.47" height="3.60" fill="#EFB83B"/><rect x="196.73" y="595.90" width="26.47" height="32.30" fill="#F5E544"/><rect x="196.73" y="597.40" width="26.47" height="0.60" fill="#F6E85E"/><rect x="196.73" y="600.50" width="26.47" height="0.60" fill="#F6E85E"/><rect x="196.73" y="603.60" width="26.47" height="0.60" fill="#F6E85E"/><rect x="196.73" y="606.70" width="26.47" height="0.60" fill="#F6E85E"/><rect x="196.73" y="609.80" width="26.47" height="0.60" fill="#F6E85E"/><rect x="196.73" y="612.90" width="26.47" height="0.60" fill="#F6E85E"/><rect x="196.73" y="616.00" width="26.47" height="0.60" fill="#F6E85E"/><rect x="196.73" y="619.10" width="26.47" height="0.60" fill="#F6E85E"/><rect x="196.73" y="622.20" width="26.47" height="0.60" fill="#F6E85E"/><rect x="196.73" y="625.30" width="26.47" height="0.60" fill="#F6E85E"/><rect x="196.73" y="614.80" width="26.47" height="3.80" fill="#F0C43E"/><rect x="196.73" y="619.60" width="26.47" height="3.60" fill="#EDB03A"/><rect x="223.20" y="595.90" width="26.47" height="32.30" fill="#F5E544"/><rect x="223.20" y="595.90" width="26.47" height="4.90" fill="#D5392E"/><rect x="223.20" y="600.80" width="26.47" height="4.20" fill="#D84848"/><rect x="223.20" y="605.00" width="26.47" height="5.00" fill="#F3D942"/><rect x="223.20" y="610.00" width="26.47" height="4.50" fill="#DA5A30"/><rect x="223.20" y="614.50" width="26.47" height="4.90" fill="#D5392E"/><rect x="223.20" y="619.40" width="26.47" height="3.80" fill="#F0C43E"/><rect x="223.20" y="623.20" width="26.47" height="5.00" fill="#D5392E"/><rect x="249.67" y="595.90" width="26.47" height="32.30" fill="#F5E544"/><rect x="249.67" y="595.90" width="26.47" height="4.90" fill="#D5392E"/><rect x="249.67" y="600.80" width="26.47" height="4.20" fill="#E07832"/><rect x="249.67" y="605.00" width="26.47" height="23.20" fill="#D4342E"/><rect x="276.13" y="595.90" width="26.47" height="32.30" fill="#F5E544"/><rect x="276.13" y="595.90" width="26.47" height="4.90" fill="#F0C43E"/><rect x="276.13" y="600.80" width="26.47" height="4.20" fill="#EBA63A"/><rect x="276.13" y="605.00" width="26.47" height="9.50" fill="#F5E544"/><rect x="276.13" y="614.50" width="26.47" height="4.90" fill="#D5392E"/><rect x="276.13" y="619.40" width="26.47" height="5.10" fill="#EBA63A"/><rect x="276.13" y="624.50" width="26.47" height="3.70" fill="#DA5A30"/><line x1="170.27" y1="595.9" x2="170.27" y2="628.2" stroke="#FFFFFF" stroke-opacity="0.55" stroke-width="0.8"/><line x1="196.73" y1="595.9" x2="196.73" y2="628.2" stroke="#FFFFFF" stroke-opacity="0.55" stroke-width="0.8"/><line x1="223.20" y1="595.9" x2="223.20" y2="628.2" stroke="#FFFFFF" stroke-opacity="0.55" stroke-width="0.8"/><line x1="249.67" y1="595.9" x2="249.67" y2="628.2" stroke="#FFFFFF" stroke-opacity="0.55" stroke-width="0.8"/><line x1="276.13" y1="595.9" x2="276.13" y2="628.2" stroke="#FFFFFF" stroke-opacity="0.55" stroke-width="0.8"/>
<rect x="143.10" y="634.10" width="25.52" height="10.18" fill="#E07832"/>
<rect x="169.52" y="634.10" width="25.52" height="10.18" fill="#E07832"/>
<rect x="195.93" y="634.10" width="25.52" height="10.18" fill="#D22B2B"/>
<rect x="222.35" y="634.10" width="25.52" height="10.18" fill="#F5E544"/>
<rect x="248.77" y="634.10" width="25.52" height="10.18" fill="#F3D942"/>
<rect x="275.18" y="634.10" width="25.52" height="10.18" fill="#F5E544"/>
<text x="135.8" y="642.6" font-family="Liberation Sans, sans-serif" font-size="12.6" text-anchor="end" fill="#111" stroke="#111" stroke-width="0.2">Sweet--a</text>
<rect x="143.10" y="645.18" width="25.52" height="10.18" fill="#F3D942"/>
<rect x="169.52" y="645.18" width="25.52" height="10.18" fill="#F5E544"/>
<rect x="195.93" y="645.18" width="25.52" height="10.18" fill="#D22B2B"/>
<rect x="222.35" y="645.18" width="25.52" height="10.18" fill="#EBA63A"/>
<rect x="248.77" y="645.18" width="25.52" height="10.18" fill="#F0C43E"/>
<rect x="275.18" y="645.18" width="25.52" height="10.18" fill="#F5E544"/>
<text x="135.8" y="653.7" font-family="Liberation Sans, sans-serif" font-size="12.6" text-anchor="end" fill="#111" stroke="#111" stroke-width="0.2">Sweet--b</text>
<rect x="143.10" y="656.26" width="25.52" height="10.18" fill="#DA5A30"/>
<rect x="169.52" y="656.26" width="25.52" height="10.18" fill="#D22B2B"/>
<rect x="195.93" y="656.26" width="25.52" height="10.18" fill="#D22B2B"/>
<rect x="222.35" y="656.26" width="25.52" height="10.18" fill="#F5E544"/>
<rect x="248.77" y="656.26" width="25.52" height="10.18" fill="#F5E544"/>
<rect x="275.18" y="656.26" width="25.52" height="10.18" fill="#F5E544"/>
<text x="135.8" y="664.8" font-family="Liberation Sans, sans-serif" font-size="12.6" text-anchor="end" fill="#111" stroke="#111" stroke-width="0.2">Sweet--c</text>
<rect x="143.10" y="667.34" width="25.52" height="10.18" fill="#F5E544"/>
<rect x="169.52" y="667.34" width="25.52" height="10.18" fill="#F5E544"/>
<rect x="195.93" y="667.34" width="25.52" height="10.18" fill="#D22B2B"/>
<rect x="222.35" y="667.34" width="25.52" height="10.18" fill="#D5392E"/>
<rect x="248.77" y="667.34" width="25.52" height="10.18" fill="#D22B2B"/>
<rect x="275.18" y="667.34" width="25.52" height="10.18" fill="#DA5A30"/>
<text x="135.8" y="675.9" font-family="Liberation Sans, sans-serif" font-size="12.6" text-anchor="end" fill="#111" stroke="#111" stroke-width="0.2">Sweet--d</text>
<rect x="143.10" y="678.42" width="25.52" height="10.18" fill="#F5E544"/>
<rect x="169.52" y="678.42" width="25.52" height="10.18" fill="#F5E544"/>
<rect x="195.93" y="678.42" width="25.52" height="10.18" fill="#D22B2B"/>
<rect x="222.35" y="678.42" width="25.52" height="10.18" fill="#F5E544"/>
<rect x="248.77" y="678.42" width="25.52" height="10.18" fill="#F5E544"/>
<rect x="275.18" y="678.42" width="25.52" height="10.18" fill="#F5E544"/>
<text x="135.8" y="687.0" font-family="Liberation Sans, sans-serif" font-size="12.6" text-anchor="end" fill="#111" stroke="#111" stroke-width="0.2">Sweet--e</text>
<rect x="143.10" y="689.50" width="25.52" height="10.18" fill="#F3D942"/>
<rect x="169.52" y="689.50" width="25.52" height="10.18" fill="#F5E544"/>
<rect x="195.93" y="689.50" width="25.52" height="10.18" fill="#D22B2B"/>
<rect x="222.35" y="689.50" width="25.52" height="10.18" fill="#F5E544"/>
<rect x="248.77" y="689.50" width="25.52" height="10.18" fill="#DA5A30"/>
<rect x="275.18" y="689.50" width="25.52" height="10.18" fill="#D22B2B"/>
<text x="135.8" y="698.0" font-family="Liberation Sans, sans-serif" font-size="12.6" text-anchor="end" fill="#111" stroke="#111" stroke-width="0.2">Sweet--f</text>
<rect x="143.10" y="700.58" width="25.52" height="10.18" fill="#EBA63A"/>
<rect x="169.52" y="700.58" width="25.52" height="10.18" fill="#D22B2B"/>
<rect x="195.93" y="700.58" width="25.52" height="10.18" fill="#E07832"/>
<rect x="222.35" y="700.58" width="25.52" height="10.18" fill="#DA5A30"/>
<rect x="248.77" y="700.58" width="25.52" height="10.18" fill="#F0C43E"/>
<rect x="275.18" y="700.58" width="25.52" height="10.18" fill="#F3D942"/>
<text x="135.8" y="709.1" font-family="Liberation Sans, sans-serif" font-size="12.6" text-anchor="end" fill="#111" stroke="#111" stroke-width="0.2">Sweet--g</text>
<rect x="143.10" y="711.66" width="25.52" height="10.18" fill="#EBA63A"/>
<rect x="169.52" y="711.66" width="25.52" height="10.18" fill="#EBA63A"/>
<rect x="195.93" y="711.66" width="25.52" height="10.18" fill="#F5E544"/>
<rect x="222.35" y="711.66" width="25.52" height="10.18" fill="#D5392E"/>
<rect x="248.77" y="711.66" width="25.52" height="10.18" fill="#EBA63A"/>
<rect x="275.18" y="711.66" width="25.52" height="10.18" fill="#F0C43E"/>
<text x="135.8" y="720.2" font-family="Liberation Sans, sans-serif" font-size="12.6" text-anchor="end" fill="#111" stroke="#111" stroke-width="0.2">Sweet--h</text>
<rect x="143.10" y="722.74" width="25.52" height="10.18" fill="#DA5A30"/>
<rect x="169.52" y="722.74" width="25.52" height="10.18" fill="#D22B2B"/>
<rect x="195.93" y="722.74" width="25.52" height="10.18" fill="#E89337"/>
<rect x="222.35" y="722.74" width="25.52" height="10.18" fill="#EBA63A"/>
<rect x="248.77" y="722.74" width="25.52" height="10.18" fill="#E89337"/>
<rect x="275.18" y="722.74" width="25.52" height="10.18" fill="#E07832"/>
<text x="135.8" y="731.3" font-family="Liberation Sans, sans-serif" font-size="12.6" text-anchor="end" fill="#111" stroke="#111" stroke-width="0.2">SUT--a</text>
<rect x="143.10" y="733.82" width="25.52" height="10.18" fill="#E89337"/>
<rect x="169.52" y="733.82" width="25.52" height="10.18" fill="#D22B2B"/>
<rect x="195.93" y="733.82" width="25.52" height="10.18" fill="#E07832"/>
<rect x="222.35" y="733.82" width="25.52" height="10.18" fill="#F0C43E"/>
<rect x="248.77" y="733.82" width="25.52" height="10.18" fill="#EBA63A"/>
<rect x="275.18" y="733.82" width="25.52" height="10.18" fill="#E89337"/>
<text x="135.8" y="742.4" font-family="Liberation Sans, sans-serif" font-size="12.6" text-anchor="end" fill="#111" stroke="#111" stroke-width="0.2">SUT--b</text>
<rect x="143.10" y="744.90" width="25.52" height="10.18" fill="#E07832"/>
<rect x="169.52" y="744.90" width="25.52" height="10.18" fill="#D22B2B"/>
<rect x="195.93" y="744.90" width="25.52" height="10.18" fill="#DA5A30"/>
<rect x="222.35" y="744.90" width="25.52" height="10.18" fill="#F0C43E"/>
<rect x="248.77" y="744.90" width="25.52" height="10.18" fill="#DA5A30"/>
<rect x="275.18" y="744.90" width="25.52" height="10.18" fill="#DA5A30"/>
<text x="135.8" y="753.4" font-family="Liberation Sans, sans-serif" font-size="12.6" text-anchor="end" fill="#111" stroke="#111" stroke-width="0.2">SUT--c</text>
<rect x="143.10" y="755.98" width="25.52" height="10.18" fill="#EBA63A"/>
<rect x="169.52" y="755.98" width="25.52" height="10.18" fill="#D22B2B"/>
<rect x="195.93" y="755.98" width="25.52" height="10.18" fill="#E89337"/>
<rect x="222.35" y="755.98" width="25.52" height="10.18" fill="#F5E544"/>
<rect x="248.77" y="755.98" width="25.52" height="10.18" fill="#F5E544"/>
<rect x="275.18" y="755.98" width="25.52" height="10.18" fill="#F5E544"/>
<text x="135.8" y="764.5" font-family="Liberation Sans, sans-serif" font-size="12.6" text-anchor="end" fill="#111" stroke="#111" stroke-width="0.2">SuSy--a</text>
<rect x="143.10" y="767.06" width="25.52" height="10.18" fill="#EBA63A"/>
<rect x="169.52" y="767.06" width="25.52" height="10.18" fill="#D22B2B"/>
<rect x="195.93" y="767.06" width="25.52" height="10.18" fill="#E07832"/>
<rect x="222.35" y="767.06" width="25.52" height="10.18" fill="#F5E544"/>
<rect x="248.77" y="767.06" width="25.52" height="10.18" fill="#F5E544"/>
<rect x="275.18" y="767.06" width="25.52" height="10.18" fill="#F5E544"/>
<text x="135.8" y="775.6" font-family="Liberation Sans, sans-serif" font-size="12.6" text-anchor="end" fill="#111" stroke="#111" stroke-width="0.2">SuSy--b</text>
<rect x="143.10" y="778.14" width="25.52" height="10.18" fill="#D5392E"/>
<rect x="169.52" y="778.14" width="25.52" height="10.18" fill="#E89337"/>
<rect x="195.93" y="778.14" width="25.52" height="10.18" fill="#D5392E"/>
<rect x="222.35" y="778.14" width="25.52" height="10.18" fill="#E89337"/>
<rect x="248.77" y="778.14" width="25.52" height="10.18" fill="#E89337"/>
<rect x="275.18" y="778.14" width="25.52" height="10.18" fill="#EBA63A"/>
<text x="135.8" y="786.7" font-family="Liberation Sans, sans-serif" font-size="12.6" text-anchor="end" fill="#111" stroke="#111" stroke-width="0.2">UGPase</text>
<rect x="143.10" y="789.22" width="25.52" height="10.18" fill="#D5392E"/>
<rect x="169.52" y="789.22" width="25.52" height="10.18" fill="#D5392E"/>
<rect x="195.93" y="789.22" width="25.52" height="10.18" fill="#D5392E"/>
<rect x="222.35" y="789.22" width="25.52" height="10.18" fill="#DA5A30"/>
<rect x="248.77" y="789.22" width="25.52" height="10.18" fill="#E07832"/>
<rect x="275.18" y="789.22" width="25.52" height="10.18" fill="#E07832"/>
<text x="135.8" y="797.8" font-family="Liberation Sans, sans-serif" font-size="12.6" text-anchor="end" fill="#111" stroke="#111" stroke-width="0.2">GPI</text>
<rect x="143.10" y="800.30" width="25.52" height="10.18" fill="#EBA63A"/>
<rect x="169.52" y="800.30" width="25.52" height="10.18" fill="#E07832"/>
<rect x="195.93" y="800.30" width="25.52" height="10.18" fill="#D22B2B"/>
<rect x="222.35" y="800.30" width="25.52" height="10.18" fill="#EBA63A"/>
<rect x="248.77" y="800.30" width="25.52" height="10.18" fill="#EBA63A"/>
<rect x="275.18" y="800.30" width="25.52" height="10.18" fill="#E89337"/>
<text x="135.8" y="808.8" font-family="Liberation Sans, sans-serif" font-size="12.6" text-anchor="end" fill="#111" stroke="#111" stroke-width="0.2">cPGM</text>
<rect x="143.10" y="811.38" width="25.52" height="10.18" fill="#DA5A30"/>
<rect x="169.52" y="811.38" width="25.52" height="10.18" fill="#D22B2B"/>
<rect x="195.93" y="811.38" width="25.52" height="10.18" fill="#DA5A30"/>
<rect x="222.35" y="811.38" width="25.52" height="10.18" fill="#F5E544"/>
<rect x="248.77" y="811.38" width="25.52" height="10.18" fill="#F5E544"/>
<rect x="275.18" y="811.38" width="25.52" height="10.18" fill="#F5E544"/>
<text x="135.8" y="819.9" font-family="Liberation Sans, sans-serif" font-size="12.6" text-anchor="end" fill="#111" stroke="#111" stroke-width="0.2">G6PT--a</text>
<rect x="143.10" y="822.46" width="25.52" height="10.18" fill="#E07832"/>
<rect x="169.52" y="822.46" width="25.52" height="10.18" fill="#D22B2B"/>
<rect x="195.93" y="822.46" width="25.52" height="10.18" fill="#E89337"/>
<rect x="222.35" y="822.46" width="25.52" height="10.18" fill="#F3D942"/>
<rect x="248.77" y="822.46" width="25.52" height="10.18" fill="#F5E544"/>
<rect x="275.18" y="822.46" width="25.52" height="10.18" fill="#F5E544"/>
<text x="135.8" y="831.0" font-family="Liberation Sans, sans-serif" font-size="12.6" text-anchor="end" fill="#111" stroke="#111" stroke-width="0.2">G6PT--b</text>
<rect x="143.10" y="833.54" width="25.52" height="10.18" fill="#DA5A30"/>
<rect x="169.52" y="833.54" width="25.52" height="10.18" fill="#D22B2B"/>
<rect x="195.93" y="833.54" width="25.52" height="10.18" fill="#E89337"/>
<rect x="222.35" y="833.54" width="25.52" height="10.18" fill="#F3D942"/>
<rect x="248.77" y="833.54" width="25.52" height="10.18" fill="#F5E544"/>
<rect x="275.18" y="833.54" width="25.52" height="10.18" fill="#DA5A30"/>
<text x="135.8" y="842.1" font-family="Liberation Sans, sans-serif" font-size="12.6" text-anchor="end" fill="#111" stroke="#111" stroke-width="0.2">G6PT--c</text>
<rect x="143.10" y="844.62" width="25.52" height="10.18" fill="#D22B2B"/>
<rect x="169.52" y="844.62" width="25.52" height="10.18" fill="#E07832"/>
<rect x="195.93" y="844.62" width="25.52" height="10.18" fill="#F0C43E"/>
<rect x="222.35" y="844.62" width="25.52" height="10.18" fill="#F5E544"/>
<rect x="248.77" y="844.62" width="25.52" height="10.18" fill="#F5E544"/>
<rect x="275.18" y="844.62" width="25.52" height="10.18" fill="#F3D942"/>
<text x="135.8" y="853.2" font-family="Liberation Sans, sans-serif" font-size="12.6" text-anchor="end" fill="#111" stroke="#111" stroke-width="0.2">AGPase--a</text>
<rect x="143.10" y="855.70" width="25.52" height="10.18" fill="#D5392E"/>
<rect x="169.52" y="855.70" width="25.52" height="10.18" fill="#D5392E"/>
<rect x="195.93" y="855.70" width="25.52" height="10.18" fill="#E07832"/>
<rect x="222.35" y="855.70" width="25.52" height="10.18" fill="#F0C43E"/>
<rect x="248.77" y="855.70" width="25.52" height="10.18" fill="#EBA63A"/>
<rect x="275.18" y="855.70" width="25.52" height="10.18" fill="#EBA63A"/>
<text x="135.8" y="864.2" font-family="Liberation Sans, sans-serif" font-size="12.6" text-anchor="end" fill="#111" stroke="#111" stroke-width="0.2">AGPase--b</text>
<rect x="143.10" y="866.78" width="25.52" height="10.18" fill="#DA5A30"/>
<rect x="169.52" y="866.78" width="25.52" height="10.18" fill="#DC6530"/>
<rect x="195.93" y="866.78" width="25.52" height="10.18" fill="#E07832"/>
<rect x="222.35" y="866.78" width="25.52" height="10.18" fill="#F0C43E"/>
<rect x="248.77" y="866.78" width="25.52" height="10.18" fill="#D22B2B"/>
<rect x="275.18" y="866.78" width="25.52" height="10.18" fill="#EBA63A"/>
<text x="135.8" y="875.3" font-family="Liberation Sans, sans-serif" font-size="12.6" text-anchor="end" fill="#111" stroke="#111" stroke-width="0.2">SS--a</text>
<rect x="143.10" y="877.86" width="25.52" height="10.18" fill="#D5392E"/>
<rect x="169.52" y="877.86" width="25.52" height="10.18" fill="#DA5A30"/>
<rect x="195.93" y="877.86" width="25.52" height="10.18" fill="#E07832"/>
<rect x="222.35" y="877.86" width="25.52" height="10.18" fill="#EBA63A"/>
<rect x="248.77" y="877.86" width="25.52" height="10.18" fill="#F3D942"/>
<rect x="275.18" y="877.86" width="25.52" height="10.18" fill="#F0C43E"/>
<text x="135.8" y="886.4" font-family="Liberation Sans, sans-serif" font-size="12.6" text-anchor="end" fill="#111" stroke="#111" stroke-width="0.2">SS--b</text>
<rect x="143.10" y="888.94" width="25.52" height="10.18" fill="#D22B2B"/>
<rect x="169.52" y="888.94" width="25.52" height="10.18" fill="#D84530"/>
<rect x="195.93" y="888.94" width="25.52" height="10.18" fill="#E07832"/>
<rect x="222.35" y="888.94" width="25.52" height="10.18" fill="#F5E544"/>
<rect x="248.77" y="888.94" width="25.52" height="10.18" fill="#F5E544"/>
<rect x="275.18" y="888.94" width="25.52" height="10.18" fill="#F5E544"/>
<text x="135.8" y="897.5" font-family="Liberation Sans, sans-serif" font-size="12.6" text-anchor="end" fill="#111" stroke="#111" stroke-width="0.2">SBE--a</text>
<rect x="143.10" y="900.02" width="25.52" height="10.18" fill="#D22B2B"/>
<rect x="169.52" y="900.02" width="25.52" height="10.18" fill="#D84530"/>
<rect x="195.93" y="900.02" width="25.52" height="10.18" fill="#E89337"/>
<rect x="222.35" y="900.02" width="25.52" height="10.18" fill="#F3D942"/>
<rect x="248.77" y="900.02" width="25.52" height="10.18" fill="#F0C43E"/>
<rect x="275.18" y="900.02" width="25.52" height="10.18" fill="#F3D942"/>
<text x="135.8" y="908.6" font-family="Liberation Sans, sans-serif" font-size="12.6" text-anchor="end" fill="#111" stroke="#111" stroke-width="0.2">SBE--b</text>
<rect x="143.10" y="911.10" width="25.52" height="10.18" fill="#D5392E"/>
<rect x="169.52" y="911.10" width="25.52" height="10.18" fill="#D22B2B"/>
<rect x="195.93" y="911.10" width="25.52" height="10.18" fill="#EBA63A"/>
<rect x="222.35" y="911.10" width="25.52" height="10.18" fill="#F3D942"/>
<rect x="248.77" y="911.10" width="25.52" height="10.18" fill="#E07832"/>
<rect x="275.18" y="911.10" width="25.52" height="10.18" fill="#F0C43E"/>
<text x="135.8" y="919.6" font-family="Liberation Sans, sans-serif" font-size="12.6" text-anchor="end" fill="#111" stroke="#111" stroke-width="0.2">SBE--c</text>
<rect x="143.10" y="922.18" width="25.52" height="10.18" fill="#EEBB3C"/>
<rect x="169.52" y="922.18" width="25.52" height="10.18" fill="#D22B2B"/>
<rect x="195.93" y="922.18" width="25.52" height="10.18" fill="#F0C43E"/>
<rect x="222.35" y="922.18" width="25.52" height="10.18" fill="#F5E544"/>
<rect x="248.77" y="922.18" width="25.52" height="10.18" fill="#DA5A30"/>
<rect x="275.18" y="922.18" width="25.52" height="10.18" fill="#F5E544"/>
<text x="135.8" y="930.7" font-family="Liberation Sans, sans-serif" font-size="12.6" text-anchor="end" fill="#111" stroke="#111" stroke-width="0.2">SBE--d</text>
<rect x="143.10" y="933.26" width="25.52" height="10.18" fill="#D22B2B"/>
<rect x="169.52" y="933.26" width="25.52" height="10.18" fill="#E89337"/>
<rect x="195.93" y="933.26" width="25.52" height="10.18" fill="#E89337"/>
<rect x="222.35" y="933.26" width="25.52" height="10.18" fill="#F5E544"/>
<rect x="248.77" y="933.26" width="25.52" height="10.18" fill="#F3D942"/>
<rect x="275.18" y="933.26" width="25.52" height="10.18" fill="#F5E544"/>
<text x="135.8" y="941.8" font-family="Liberation Sans, sans-serif" font-size="12.6" text-anchor="end" fill="#111" stroke="#111" stroke-width="0.2">pPGM</text>
<rect x="143.10" y="944.34" width="25.52" height="10.18" fill="#D22B2B"/>
<rect x="169.52" y="944.34" width="25.52" height="10.18" fill="#EBA63A"/>
<rect x="195.93" y="944.34" width="25.52" height="10.18" fill="#E89337"/>
<rect x="222.35" y="944.34" width="25.52" height="10.18" fill="#F5E544"/>
<rect x="248.77" y="944.34" width="25.52" height="10.18" fill="#F5E544"/>
<rect x="275.18" y="944.34" width="25.52" height="10.18" fill="#F3D942"/>
<text x="135.8" y="952.9" font-family="Liberation Sans, sans-serif" font-size="12.6" text-anchor="end" fill="#111" stroke="#111" stroke-width="0.2">Pho--a</text>
<rect x="143.10" y="955.42" width="25.52" height="10.18" fill="#D22B2B"/>
<rect x="169.52" y="955.42" width="25.52" height="10.18" fill="#E89337"/>
<rect x="195.93" y="955.42" width="25.52" height="10.18" fill="#E07832"/>
<rect x="222.35" y="955.42" width="25.52" height="10.18" fill="#F5E544"/>
<rect x="248.77" y="955.42" width="25.52" height="10.18" fill="#F3D942"/>
<rect x="275.18" y="955.42" width="25.52" height="10.18" fill="#F0C43E"/>
<text x="135.8" y="964.0" font-family="Liberation Sans, sans-serif" font-size="12.6" text-anchor="end" fill="#111" stroke="#111" stroke-width="0.2">Pho--b</text>
<rect x="143.10" y="966.50" width="25.52" height="10.18" fill="#DA5A30"/>
<rect x="169.52" y="966.50" width="25.52" height="10.18" fill="#DA5A30"/>
<rect x="195.93" y="966.50" width="25.52" height="10.18" fill="#E07832"/>
<rect x="222.35" y="966.50" width="25.52" height="10.18" fill="#EBA63A"/>
<rect x="248.77" y="966.50" width="25.52" height="10.18" fill="#EBA63A"/>
<rect x="275.18" y="966.50" width="25.52" height="10.18" fill="#D22B2B"/>
<text x="135.8" y="975.0" font-family="Liberation Sans, sans-serif" font-size="12.6" text-anchor="end" fill="#111" stroke="#111" stroke-width="0.2">Pho--c</text>
<text x="135.8" y="518" font-family="Liberation Sans, sans-serif" font-size="12.5" text-anchor="end" fill="#111" stroke="#111" stroke-width="0.2">Light reaction</text>
<text x="135.8" y="568.4" font-family="Liberation Sans, sans-serif" font-size="12.5" text-anchor="end" fill="#111" stroke="#111" stroke-width="0.2">Calvin cycle</text>
<text x="135.8" y="614.4" font-family="Liberation Sans, sans-serif" font-size="12.5" text-anchor="end" fill="#111" stroke="#111" stroke-width="0.2">Sucrose synthesis</text>
<text x="26.3" y="773.1" font-family="Liberation Sans, sans-serif" font-size="12.4" text-anchor="middle" fill="#111" stroke="#111" stroke-width="0.2">Starch</text>
<text x="26.8" y="788" font-family="Liberation Sans, sans-serif" font-size="12.4" text-anchor="middle" fill="#111" stroke="#111" stroke-width="0.2">synthesis</text>
<text x="399.6" y="445.3" font-family="Liberation Sans, sans-serif" font-weight="bold" font-size="20.5" fill="#000" stroke="#000" stroke-width="0.2">c</text>
<rect x="416.7" y="470.1" width="214.9" height="112.8" fill="none" stroke="#4D72AE" stroke-width="1.6"/>
<text x="490.6" y="485.9" font-family="Liberation Sans, sans-serif" font-size="12.5" fill="#111"  stroke="#111" stroke-width="0.2">Light reaction</text>
<line x1="520.8" y1="489.5" x2="520.8" y2="499" stroke="#D42A26" stroke-width="3"/>
<polygon points="515.8,497.5 525.8,497.5 520.8,505.5" fill="#D42A26"/>
<line x1="531.9" y1="489.5" x2="531.9" y2="505" stroke="#6F95D0" stroke-width="1.1" /><polyline points="529.1,500.0 531.9,505.0 534.7,500.0" fill="none" stroke="#6F95D0" stroke-width="1.1"/>
<path d="M507.4,515.4 Q532.6,496.4 557.8,517" fill="none" stroke="#111" stroke-width="1.6"/>
<path d="M509,538 Q532,551.2 555,538" fill="none" stroke="#111" stroke-width="1.6"/>
<text x="489.9" y="532.2" font-family="Liberation Sans, sans-serif" font-size="12.5" fill="#111"  stroke="#111" stroke-width="0.2">Calvin</text>
<text x="542.6" y="532.2" font-family="Liberation Sans, sans-serif" font-size="12.5" fill="#111"  stroke="#111" stroke-width="0.2">Cycle</text>
<line x1="520.8" y1="550" x2="520.8" y2="558.5" stroke="#D42A26" stroke-width="3"/>
<polygon points="515.8,557 525.8,557 520.8,565" fill="#D42A26"/>
<line x1="532.6" y1="550" x2="532.6" y2="565" stroke="#6F95D0" stroke-width="1.1" /><polyline points="529.8,560.0 532.6,565.0 535.4,560.0" fill="none" stroke="#6F95D0" stroke-width="1.1"/>
<text x="546" y="562.4" font-family="Liberation Sans, sans-serif" font-size="12.5" fill="#7358B0"  stroke="#7358B0" stroke-width="0.2">TPT</text>
<text x="504" y="577.5" font-family="Liberation Sans, sans-serif" font-size="12.5" fill="#111"  stroke="#111" stroke-width="0.2">Sucrose</text>
<line x1="532.3" y1="583.5" x2="532.3" y2="591" stroke="#6F95D0" stroke-width="1.1" /><polyline points="528.8,586.5 532.3,591.0 535.8,586.5" fill="none" stroke="#6F95D0" stroke-width="1.1"/>
<text x="511" y="600.7" font-family="Liberation Sans, sans-serif" font-size="12.5" fill="#111"  stroke="#111" stroke-width="0.2">Sucrose</text>
<rect x="381.8" y="621.5" width="282.3" height="341" fill="none" stroke="#4D72AE" stroke-width="1.6"/>
<line x1="532.3" y1="601.5" x2="532.3" y2="660" stroke="#111" stroke-width="1.6" />
<ellipse cx="530" cy="612.2" rx="2.8" ry="8" fill="#8CC05A"/>
<ellipse cx="534.9" cy="621.7" rx="3" ry="6" fill="#F0C13A"/>
<text x="484.4" y="615" font-family="Liberation Sans, sans-serif" font-size="12.6" fill="#7358B0"  stroke="#7358B0" stroke-width="0.2">Sweet</text>
<text x="540.7" y="616.8" font-family="Liberation Sans, sans-serif" font-size="12.7" fill="#D8302C"  stroke="#D8302C" stroke-width="0.2">SUT</text>
<text x="535.8" y="644.5" font-family="Liberation Sans, sans-serif" font-size="10" fill="#7358B0"  stroke="#7358B0" stroke-width="0.2">SuSy</text>
<line x1="532.3" y1="660" x2="507" y2="675.5" stroke="#111" stroke-width="1.6" /><polyline points="510.0,669.0 507.0,675.5 514.2,675.8" fill="none" stroke="#111" stroke-width="1.6"/>
<line x1="532.3" y1="660" x2="548" y2="675.5" stroke="#111" stroke-width="1.6" /><polyline points="540.9,674.1 548.0,675.5 546.5,668.4" fill="none" stroke="#111" stroke-width="1.6"/>
<text x="492.1" y="690.2" font-family="Liberation Sans, sans-serif" font-size="10.4" fill="#111"  stroke="#111" stroke-width="0.2">Fru</text>
<text x="536" y="690.2" font-family="Liberation Sans, sans-serif" font-size="10.4" fill="#111"  stroke="#111" stroke-width="0.2">UDP–Glc</text>
<line x1="581.6" y1="681.6" x2="609" y2="681.6" stroke="#D83A34" stroke-width="1.6" stroke-dasharray="1.6,1.6"/>
<polygon points="607,678.4 614.3,681.6 607,684.8" fill="#D83A34"/>
<line x1="581.6" y1="693.7" x2="606" y2="693.7" stroke="#3E69B0" stroke-width="3.2" stroke-dasharray="3.6,2.4"/>
<polygon points="604,688.6 615,693.7 604,698.8" fill="#3E69B0"/>
<text x="617.8" y="690.2" font-family="Liberation Sans, sans-serif" font-size="10.4" fill="#111"  stroke="#111" stroke-width="0.2">Cell wall</text>
<line x1="499.9" y1="693.3" x2="499.9" y2="719.4" stroke="#111" stroke-width="1.6" /><polyline points="496.1,713.9 499.9,719.4 503.7,713.9" fill="none" stroke="#111" stroke-width="1.6"/>
<text x="486.5" y="729.5" font-family="Liberation Sans, sans-serif" font-size="10.4" fill="#111"  stroke="#111" stroke-width="0.2">F-6-P</text>
<text x="480" y="742.8" font-family="Liberation Sans, sans-serif" font-size="10.4" fill="#7358B0"  stroke="#7358B0" stroke-width="0.2">GPI</text>
<line x1="499.9" y1="732.3" x2="499.9" y2="758" stroke="#111" stroke-width="1.6" /><polyline points="496.1,752.5 499.9,758.0 503.7,752.5" fill="none" stroke="#111" stroke-width="1.6"/>
<line x1="559.9" y1="693.3" x2="559.9" y2="758" stroke="#111" stroke-width="1.6" /><polyline points="556.1,752.5 559.9,758.0 563.7,752.5" fill="none" stroke="#111" stroke-width="1.6"/>
<text x="518.5" y="722.2" font-family="Liberation Sans, sans-serif" font-size="10.4" fill="#7358B0"  stroke="#7358B0" stroke-width="0.2">UGPase</text>
<text x="572.3" y="710" font-family="Liberation Sans, sans-serif" font-size="10.4" fill="#111"  stroke="#111" stroke-width="0.2">PPi</text>
<text x="571.6" y="757.3" font-family="Liberation Sans, sans-serif" font-size="10.4" fill="#111"  stroke="#111" stroke-width="0.2">UTP</text>
<path d="M571.5,707.5 C563,709 561,716 561,724 L561,738 C561,746 564,750 570,752.5" fill="none" stroke="#8A8A8A" stroke-width="0.9"/>
<text x="484.2" y="771.3" font-family="Liberation Sans, sans-serif" font-size="10.4" fill="#111"  stroke="#111" stroke-width="0.2">G-6-P</text>
<text x="554.3" y="771.3" font-family="Liberation Sans, sans-serif" font-size="10.4" fill="#111"  stroke="#111" stroke-width="0.2">G-1-P</text>
<text x="517.4" y="762.6" font-family="Liberation Sans, sans-serif" font-size="10.4" fill="#7358B0"  stroke="#7358B0" stroke-width="0.2">cPGM</text>
<line x1="531" y1="769.8" x2="548.9" y2="769.8" stroke="#111" stroke-width="1.6" /><polyline points="543.9,773.6 548.9,769.8 543.9,766.0" fill="none" stroke="#111" stroke-width="1.6"/>
<line x1="531" y1="769.8" x2="513.9" y2="769.8" stroke="#111" stroke-width="1.6" /><polyline points="518.9,766.0 513.9,769.8 518.9,773.6" fill="none" stroke="#111" stroke-width="1.6"/>
<text x="390" y="770.2" font-family="Liberation Sans, sans-serif" font-size="10.5" fill="#111"  stroke="#111" stroke-width="0.2">Glycolysis</text>
<line x1="477.2" y1="768.1" x2="441" y2="768.1" stroke="#111" stroke-width="1.5" stroke-dasharray="3.5,2.2"/>
<polyline points="445.5,764.3 440.0,768.1 445.5,771.9" fill="none" stroke="#111" stroke-width="1.5"/>
<text x="450.4" y="783.4" font-family="Liberation Sans, sans-serif" font-size="10.4" fill="#7358B0"  stroke="#7358B0" stroke-width="0.2">G6PT</text>
<line x1="411.5" y1="774.2" x2="411.5" y2="788" stroke="#D83A34" stroke-width="1.5" stroke-dasharray="1.6,1.6"/>
<polygon points="408.6,786.5 414.4,786.5 411.5,792.8" fill="#D83A34"/>
<line x1="422.8" y1="774.2" x2="422.8" y2="784" stroke="#3E69B0" stroke-width="3.4" stroke-dasharray="3.2,2.3"/>
<polygon points="417.4,783 428.2,783 422.8,793.5" fill="#3E69B0"/>
<text x="391.5" y="804.2" font-family="Liberation Sans, sans-serif" font-size="10.6" fill="#111"  stroke="#111" stroke-width="0.2">Secondary</text>
<text x="389.9" y="815.8" font-family="Liberation Sans, sans-serif" font-size="10.5" fill="#111"  stroke="#111" stroke-width="0.2">metabolism</text>
<ellipse cx="538" cy="870.6" rx="115.8" ry="84.6" fill="none" stroke="#4D72AE" stroke-width="1.6"/>
<ellipse cx="535.4" cy="915.2" rx="68.8" ry="29.2" fill="#1F2D6C"/>
<text x="519.4" y="918" font-family="Liberation Sans, sans-serif" font-size="12.4" fill="#D9DC5C"  stroke="#D9DC5C" stroke-width="0.2">Starch</text>
<line x1="499.9" y1="775.2" x2="499.9" y2="800.9" stroke="#111" stroke-width="1.6" />
<polyline points="495.9,782.0 499.9,787.2 503.9,782.0" fill="none" stroke="#111" stroke-width="1.5" stroke-linejoin="miter"/>
<polyline points="495.9,796.0 499.9,801.2 503.9,796.0" fill="none" stroke="#111" stroke-width="1.5" stroke-linejoin="miter"/>
<line x1="559.9" y1="775.2" x2="559.9" y2="800.9" stroke="#111" stroke-width="1.6" />
<polyline points="555.9,782.0 559.9,787.2 563.9,782.0" fill="none" stroke="#111" stroke-width="1.5" stroke-linejoin="miter"/>
<polyline points="555.9,796.0 559.9,801.2 563.9,796.0" fill="none" stroke="#111" stroke-width="1.5" stroke-linejoin="miter"/>
<text x="485.1" y="810.2" font-family="Liberation Sans, sans-serif" font-size="10.4" fill="#111"  stroke="#111" stroke-width="0.2">G-6-P</text>
<text x="550.1" y="810.2" font-family="Liberation Sans, sans-serif" font-size="10.4" fill="#111"  stroke="#111" stroke-width="0.2">G-1-P</text>
<text x="519.2" y="801.6" font-family="Liberation Sans, sans-serif" font-size="10.4" fill="#D8302C"  stroke="#D8302C" stroke-width="0.2">pPGM</text>
<line x1="531" y1="808.4" x2="546.6" y2="808.4" stroke="#111" stroke-width="1.6" /><polyline points="541.6,812.2 546.6,808.4 541.6,804.6" fill="none" stroke="#111" stroke-width="1.6"/>
<line x1="531" y1="808.4" x2="516.2" y2="808.4" stroke="#111" stroke-width="1.6" /><polyline points="521.2,804.6 516.2,808.4 521.2,812.2" fill="none" stroke="#111" stroke-width="1.6"/>
<text x="477" y="825.4" font-family="Liberation Sans, sans-serif" font-size="10.4" fill="#D8302C"  stroke="#D8302C" stroke-width="0.2">APL</text>
<text x="513.9" y="825.4" font-family="Liberation Sans, sans-serif" font-size="10.4" fill="#111"  stroke="#111" stroke-width="0.2">ATP</text>
<line x1="499.9" y1="813.7" x2="499.9" y2="844.3" stroke="#111" stroke-width="1.6" /><polyline points="496.1,838.8 499.9,844.3 503.7,838.8" fill="none" stroke="#111" stroke-width="1.6"/>
<line x1="511" y1="824.5" x2="500.6" y2="832" stroke="#8A8A8A" stroke-width="1"/>
<line x1="466.8" y1="840.2" x2="477" y2="830.8" stroke="#9A9A9A" stroke-width="1.3" /><polyline points="475.5,836.5 477.0,830.8 471.2,831.8" fill="none" stroke="#9A9A9A" stroke-width="1.3"/>
<text x="439.3" y="850.5" font-family="Liberation Sans, sans-serif" font-size="10.4" fill="#111"  stroke="#111" stroke-width="0.2">miRNA</text>
<text x="479" y="855.9" font-family="Liberation Sans, sans-serif" font-size="10.4" fill="#111"  stroke="#111" stroke-width="0.2">ADP-Glc</text>
<text x="480.3" y="867.2" font-family="Liberation Sans, sans-serif" font-size="10.4" fill="#7358B0"  stroke="#7358B0" stroke-width="0.2">SS</text>
<text x="503.4" y="881.8" font-family="Liberation Sans, sans-serif" font-size="10.4" fill="#D8302C"  stroke="#D8302C" stroke-width="0.2">SBE</text>
<line x1="499.9" y1="858" x2="499.9" y2="888.5" stroke="#111" stroke-width="1.6" />
<polyline points="495.9,867.2 499.9,872.4 503.9,867.2" fill="none" stroke="#111" stroke-width="1.5" stroke-linejoin="miter"/>
<polyline points="495.9,883.4 499.9,888.6 503.9,883.4" fill="none" stroke="#111" stroke-width="1.5" stroke-linejoin="miter"/>
<text x="566" y="846.9" font-family="Liberation Sans, sans-serif" font-size="10.4" fill="#7358B0"  stroke="#7358B0" stroke-width="0.2">Pho</text>
<line x1="559.9" y1="814.2" x2="559.9" y2="888.3" stroke="#111" stroke-width="1.6" />
<polyline points="555.9,883.4 559.9,888.6 563.9,883.4" fill="none" stroke="#111" stroke-width="1.5" stroke-linejoin="miter"/>
</svg>
</body></html>
